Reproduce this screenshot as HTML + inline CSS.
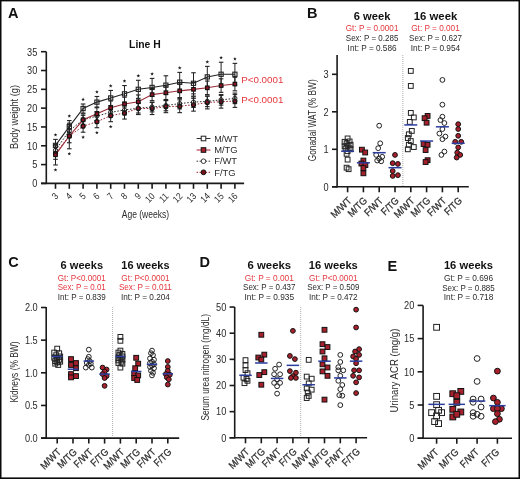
<!DOCTYPE html><html><head><meta charset="utf-8"><style>html,body{margin:0;padding:0;background:#fff;width:520px;height:479px;overflow:hidden}#w{will-change:transform;width:520px;height:479px}</style></head><body><div id="w"><svg width="520" height="479" viewBox="0 0 520 479" style="display:block;font-family:'Liberation Sans', sans-serif">
<rect x="0" y="0" width="520" height="479" fill="#fff"/>
<rect x="0" y="0" width="520" height="1.4" fill="#0a0a0a"/>
<rect x="0" y="0" width="1.5" height="479" fill="#0a0a0a"/>
<rect x="518.5" y="0" width="1.5" height="479" fill="#0a0a0a"/>
<rect x="0" y="477.4" width="520" height="1.6" fill="#0a0a0a"/>
<text x="8.10" y="17.90" font-size="14.5" text-anchor="start" fill="#111" font-weight="bold" >A</text>
<text x="306.90" y="17.70" font-size="14.5" text-anchor="start" fill="#111" font-weight="bold" >B</text>
<text x="8.20" y="267.40" font-size="14.5" text-anchor="start" fill="#111" font-weight="bold" >C</text>
<text x="199.50" y="267.10" font-size="14.5" text-anchor="start" fill="#111" font-weight="bold" >D</text>
<text x="387.60" y="270.90" font-size="14.5" text-anchor="start" fill="#111" font-weight="bold" >E</text>
<line x1="46.30" y1="51.70" x2="46.30" y2="184.05" stroke="#1a1a1a" stroke-width="1.6" />
<line x1="41.00" y1="183.40" x2="244.10" y2="183.40" stroke="#1a1a1a" stroke-width="1.6" />
<line x1="41.00" y1="183.40" x2="46.30" y2="183.40" stroke="#1a1a1a" stroke-width="1.6" />
<text x="37.30" y="187.20" font-size="10.6" text-anchor="end" fill="#2b2b2b" textLength="5.13" lengthAdjust="spacingAndGlyphs" >0</text>
<line x1="41.00" y1="164.59" x2="46.30" y2="164.59" stroke="#1a1a1a" stroke-width="1.6" />
<text x="37.30" y="168.39" font-size="10.6" text-anchor="end" fill="#2b2b2b" textLength="5.13" lengthAdjust="spacingAndGlyphs" >5</text>
<line x1="41.00" y1="145.77" x2="46.30" y2="145.77" stroke="#1a1a1a" stroke-width="1.6" />
<text x="37.30" y="149.57" font-size="10.6" text-anchor="end" fill="#2b2b2b" textLength="10.25" lengthAdjust="spacingAndGlyphs" >10</text>
<line x1="41.00" y1="126.96" x2="46.30" y2="126.96" stroke="#1a1a1a" stroke-width="1.6" />
<text x="37.30" y="130.76" font-size="10.6" text-anchor="end" fill="#2b2b2b" textLength="10.25" lengthAdjust="spacingAndGlyphs" >15</text>
<line x1="41.00" y1="108.14" x2="46.30" y2="108.14" stroke="#1a1a1a" stroke-width="1.6" />
<text x="37.30" y="111.94" font-size="10.6" text-anchor="end" fill="#2b2b2b" textLength="10.25" lengthAdjust="spacingAndGlyphs" >20</text>
<line x1="41.00" y1="89.33" x2="46.30" y2="89.33" stroke="#1a1a1a" stroke-width="1.6" />
<text x="37.30" y="93.12" font-size="10.6" text-anchor="end" fill="#2b2b2b" textLength="10.25" lengthAdjust="spacingAndGlyphs" >25</text>
<line x1="41.00" y1="70.51" x2="46.30" y2="70.51" stroke="#1a1a1a" stroke-width="1.6" />
<text x="37.30" y="74.31" font-size="10.6" text-anchor="end" fill="#2b2b2b" textLength="10.25" lengthAdjust="spacingAndGlyphs" >30</text>
<line x1="41.00" y1="51.70" x2="46.30" y2="51.70" stroke="#1a1a1a" stroke-width="1.6" />
<text x="37.30" y="55.50" font-size="10.6" text-anchor="end" fill="#2b2b2b" textLength="10.25" lengthAdjust="spacingAndGlyphs" >35</text>
<line x1="55.50" y1="183.40" x2="55.50" y2="188.80" stroke="#1a1a1a" stroke-width="1.6" />
<text transform="translate(58.90,196.80) rotate(-45)" font-size="9.6" text-anchor="end" fill="#2b2b2b" textLength="4.54" lengthAdjust="spacingAndGlyphs">3</text>
<line x1="69.30" y1="183.40" x2="69.30" y2="188.80" stroke="#1a1a1a" stroke-width="1.6" />
<text transform="translate(72.70,196.80) rotate(-45)" font-size="9.6" text-anchor="end" fill="#2b2b2b" textLength="4.54" lengthAdjust="spacingAndGlyphs">4</text>
<line x1="83.10" y1="183.40" x2="83.10" y2="188.80" stroke="#1a1a1a" stroke-width="1.6" />
<text transform="translate(86.50,196.80) rotate(-45)" font-size="9.6" text-anchor="end" fill="#2b2b2b" textLength="4.54" lengthAdjust="spacingAndGlyphs">5</text>
<line x1="96.90" y1="183.40" x2="96.90" y2="188.80" stroke="#1a1a1a" stroke-width="1.6" />
<text transform="translate(100.30,196.80) rotate(-45)" font-size="9.6" text-anchor="end" fill="#2b2b2b" textLength="4.54" lengthAdjust="spacingAndGlyphs">6</text>
<line x1="110.70" y1="183.40" x2="110.70" y2="188.80" stroke="#1a1a1a" stroke-width="1.6" />
<text transform="translate(114.10,196.80) rotate(-45)" font-size="9.6" text-anchor="end" fill="#2b2b2b" textLength="4.54" lengthAdjust="spacingAndGlyphs">7</text>
<line x1="124.50" y1="183.40" x2="124.50" y2="188.80" stroke="#1a1a1a" stroke-width="1.6" />
<text transform="translate(127.90,196.80) rotate(-45)" font-size="9.6" text-anchor="end" fill="#2b2b2b" textLength="4.54" lengthAdjust="spacingAndGlyphs">8</text>
<line x1="138.30" y1="183.40" x2="138.30" y2="188.80" stroke="#1a1a1a" stroke-width="1.6" />
<text transform="translate(141.70,196.80) rotate(-45)" font-size="9.6" text-anchor="end" fill="#2b2b2b" textLength="4.54" lengthAdjust="spacingAndGlyphs">9</text>
<line x1="152.10" y1="183.40" x2="152.10" y2="188.80" stroke="#1a1a1a" stroke-width="1.6" />
<text transform="translate(155.50,196.80) rotate(-45)" font-size="9.6" text-anchor="end" fill="#2b2b2b" textLength="9.07" lengthAdjust="spacingAndGlyphs">10</text>
<line x1="165.90" y1="183.40" x2="165.90" y2="188.80" stroke="#1a1a1a" stroke-width="1.6" />
<text transform="translate(169.30,196.80) rotate(-45)" font-size="9.6" text-anchor="end" fill="#2b2b2b" textLength="9.07" lengthAdjust="spacingAndGlyphs">11</text>
<line x1="179.70" y1="183.40" x2="179.70" y2="188.80" stroke="#1a1a1a" stroke-width="1.6" />
<text transform="translate(183.10,196.80) rotate(-45)" font-size="9.6" text-anchor="end" fill="#2b2b2b" textLength="9.07" lengthAdjust="spacingAndGlyphs">12</text>
<line x1="193.50" y1="183.40" x2="193.50" y2="188.80" stroke="#1a1a1a" stroke-width="1.6" />
<text transform="translate(196.90,196.80) rotate(-45)" font-size="9.6" text-anchor="end" fill="#2b2b2b" textLength="9.07" lengthAdjust="spacingAndGlyphs">13</text>
<line x1="207.30" y1="183.40" x2="207.30" y2="188.80" stroke="#1a1a1a" stroke-width="1.6" />
<text transform="translate(210.70,196.80) rotate(-45)" font-size="9.6" text-anchor="end" fill="#2b2b2b" textLength="9.07" lengthAdjust="spacingAndGlyphs">14</text>
<line x1="221.10" y1="183.40" x2="221.10" y2="188.80" stroke="#1a1a1a" stroke-width="1.6" />
<text transform="translate(224.50,196.80) rotate(-45)" font-size="9.6" text-anchor="end" fill="#2b2b2b" textLength="9.07" lengthAdjust="spacingAndGlyphs">15</text>
<line x1="234.90" y1="183.40" x2="234.90" y2="188.80" stroke="#1a1a1a" stroke-width="1.6" />
<text transform="translate(238.30,196.80) rotate(-45)" font-size="9.6" text-anchor="end" fill="#2b2b2b" textLength="9.07" lengthAdjust="spacingAndGlyphs">16</text>
<text x="145.40" y="218.10" font-size="10.5" text-anchor="middle" fill="#2b2b2b" textLength="47.3" lengthAdjust="spacingAndGlyphs" >Age (weeks)</text>
<text transform="translate(18.24,117.00) rotate(-90)" font-size="10.4" text-anchor="middle" fill="#2b2b2b" textLength="64" lengthAdjust="spacingAndGlyphs">Body weight (g)</text>
<text x="144.90" y="47.90" font-size="11" text-anchor="middle" fill="#111" font-weight="bold" textLength="31.7" lengthAdjust="spacingAndGlyphs" >Line H</text>
<line x1="55.50" y1="147.28" x2="55.50" y2="159.32" stroke="#222" stroke-width="1.0" />
<line x1="53.20" y1="147.28" x2="57.80" y2="147.28" stroke="#222" stroke-width="1.1" />
<line x1="53.20" y1="159.32" x2="57.80" y2="159.32" stroke="#222" stroke-width="1.1" />
<line x1="69.30" y1="129.21" x2="69.30" y2="142.76" stroke="#222" stroke-width="1.0" />
<line x1="67.00" y1="129.21" x2="71.60" y2="129.21" stroke="#222" stroke-width="1.1" />
<line x1="67.00" y1="142.76" x2="71.60" y2="142.76" stroke="#222" stroke-width="1.1" />
<line x1="83.10" y1="120.18" x2="83.10" y2="132.22" stroke="#222" stroke-width="1.0" />
<line x1="80.80" y1="120.18" x2="85.40" y2="120.18" stroke="#222" stroke-width="1.1" />
<line x1="80.80" y1="132.22" x2="85.40" y2="132.22" stroke="#222" stroke-width="1.1" />
<line x1="96.90" y1="115.67" x2="96.90" y2="127.71" stroke="#222" stroke-width="1.0" />
<line x1="94.60" y1="115.67" x2="99.20" y2="115.67" stroke="#222" stroke-width="1.1" />
<line x1="94.60" y1="127.71" x2="99.20" y2="127.71" stroke="#222" stroke-width="1.1" />
<line x1="110.70" y1="109.65" x2="110.70" y2="121.69" stroke="#222" stroke-width="1.0" />
<line x1="108.40" y1="109.65" x2="113.00" y2="109.65" stroke="#222" stroke-width="1.1" />
<line x1="108.40" y1="121.69" x2="113.00" y2="121.69" stroke="#222" stroke-width="1.1" />
<line x1="124.50" y1="107.01" x2="124.50" y2="119.05" stroke="#222" stroke-width="1.0" />
<line x1="122.20" y1="107.01" x2="126.80" y2="107.01" stroke="#222" stroke-width="1.1" />
<line x1="122.20" y1="119.05" x2="126.80" y2="119.05" stroke="#222" stroke-width="1.1" />
<line x1="138.30" y1="102.50" x2="138.30" y2="114.54" stroke="#222" stroke-width="1.0" />
<line x1="136.00" y1="102.50" x2="140.60" y2="102.50" stroke="#222" stroke-width="1.1" />
<line x1="136.00" y1="114.54" x2="140.60" y2="114.54" stroke="#222" stroke-width="1.1" />
<line x1="152.10" y1="102.50" x2="152.10" y2="114.54" stroke="#222" stroke-width="1.0" />
<line x1="149.80" y1="102.50" x2="154.40" y2="102.50" stroke="#222" stroke-width="1.1" />
<line x1="149.80" y1="114.54" x2="154.40" y2="114.54" stroke="#222" stroke-width="1.1" />
<line x1="165.90" y1="100.61" x2="165.90" y2="112.66" stroke="#222" stroke-width="1.0" />
<line x1="163.60" y1="100.61" x2="168.20" y2="100.61" stroke="#222" stroke-width="1.1" />
<line x1="163.60" y1="112.66" x2="168.20" y2="112.66" stroke="#222" stroke-width="1.1" />
<line x1="179.70" y1="99.86" x2="179.70" y2="112.66" stroke="#222" stroke-width="1.0" />
<line x1="177.40" y1="99.86" x2="182.00" y2="99.86" stroke="#222" stroke-width="1.1" />
<line x1="177.40" y1="112.66" x2="182.00" y2="112.66" stroke="#222" stroke-width="1.1" />
<line x1="193.50" y1="98.36" x2="193.50" y2="111.15" stroke="#222" stroke-width="1.0" />
<line x1="191.20" y1="98.36" x2="195.80" y2="98.36" stroke="#222" stroke-width="1.1" />
<line x1="191.20" y1="111.15" x2="195.80" y2="111.15" stroke="#222" stroke-width="1.1" />
<line x1="207.30" y1="96.10" x2="207.30" y2="108.89" stroke="#222" stroke-width="1.0" />
<line x1="205.00" y1="96.10" x2="209.60" y2="96.10" stroke="#222" stroke-width="1.1" />
<line x1="205.00" y1="108.89" x2="209.60" y2="108.89" stroke="#222" stroke-width="1.1" />
<line x1="221.10" y1="95.35" x2="221.10" y2="108.14" stroke="#222" stroke-width="1.0" />
<line x1="218.80" y1="95.35" x2="223.40" y2="95.35" stroke="#222" stroke-width="1.1" />
<line x1="218.80" y1="108.14" x2="223.40" y2="108.14" stroke="#222" stroke-width="1.1" />
<line x1="234.90" y1="94.59" x2="234.90" y2="107.39" stroke="#222" stroke-width="1.0" />
<line x1="232.60" y1="94.59" x2="237.20" y2="94.59" stroke="#222" stroke-width="1.1" />
<line x1="232.60" y1="107.39" x2="237.20" y2="107.39" stroke="#222" stroke-width="1.1" />
<line x1="55.50" y1="145.77" x2="55.50" y2="154.80" stroke="#222" stroke-width="1.0" />
<line x1="53.20" y1="145.77" x2="57.80" y2="145.77" stroke="#222" stroke-width="1.1" />
<line x1="53.20" y1="154.80" x2="57.80" y2="154.80" stroke="#222" stroke-width="1.1" />
<line x1="69.30" y1="126.20" x2="69.30" y2="135.23" stroke="#222" stroke-width="1.0" />
<line x1="67.00" y1="126.20" x2="71.60" y2="126.20" stroke="#222" stroke-width="1.1" />
<line x1="67.00" y1="135.23" x2="71.60" y2="135.23" stroke="#222" stroke-width="1.1" />
<line x1="83.10" y1="115.29" x2="83.10" y2="124.32" stroke="#222" stroke-width="1.0" />
<line x1="80.80" y1="115.29" x2="85.40" y2="115.29" stroke="#222" stroke-width="1.1" />
<line x1="80.80" y1="124.32" x2="85.40" y2="124.32" stroke="#222" stroke-width="1.1" />
<line x1="96.90" y1="111.53" x2="96.90" y2="120.56" stroke="#222" stroke-width="1.0" />
<line x1="94.60" y1="111.53" x2="99.20" y2="111.53" stroke="#222" stroke-width="1.1" />
<line x1="94.60" y1="120.56" x2="99.20" y2="120.56" stroke="#222" stroke-width="1.1" />
<line x1="110.70" y1="107.76" x2="110.70" y2="116.79" stroke="#222" stroke-width="1.0" />
<line x1="108.40" y1="107.76" x2="113.00" y2="107.76" stroke="#222" stroke-width="1.1" />
<line x1="108.40" y1="116.79" x2="113.00" y2="116.79" stroke="#222" stroke-width="1.1" />
<line x1="124.50" y1="105.13" x2="124.50" y2="114.91" stroke="#222" stroke-width="1.0" />
<line x1="122.20" y1="105.13" x2="126.80" y2="105.13" stroke="#222" stroke-width="1.1" />
<line x1="122.20" y1="114.91" x2="126.80" y2="114.91" stroke="#222" stroke-width="1.1" />
<line x1="138.30" y1="103.25" x2="138.30" y2="113.03" stroke="#222" stroke-width="1.0" />
<line x1="136.00" y1="103.25" x2="140.60" y2="103.25" stroke="#222" stroke-width="1.1" />
<line x1="136.00" y1="113.03" x2="140.60" y2="113.03" stroke="#222" stroke-width="1.1" />
<line x1="152.10" y1="102.12" x2="152.10" y2="111.90" stroke="#222" stroke-width="1.0" />
<line x1="149.80" y1="102.12" x2="154.40" y2="102.12" stroke="#222" stroke-width="1.1" />
<line x1="149.80" y1="111.90" x2="154.40" y2="111.90" stroke="#222" stroke-width="1.1" />
<line x1="165.90" y1="100.24" x2="165.90" y2="110.77" stroke="#222" stroke-width="1.0" />
<line x1="163.60" y1="100.24" x2="168.20" y2="100.24" stroke="#222" stroke-width="1.1" />
<line x1="163.60" y1="110.77" x2="168.20" y2="110.77" stroke="#222" stroke-width="1.1" />
<line x1="179.70" y1="98.36" x2="179.70" y2="108.89" stroke="#222" stroke-width="1.0" />
<line x1="177.40" y1="98.36" x2="182.00" y2="98.36" stroke="#222" stroke-width="1.1" />
<line x1="177.40" y1="108.89" x2="182.00" y2="108.89" stroke="#222" stroke-width="1.1" />
<line x1="193.50" y1="96.85" x2="193.50" y2="107.39" stroke="#222" stroke-width="1.0" />
<line x1="191.20" y1="96.85" x2="195.80" y2="96.85" stroke="#222" stroke-width="1.1" />
<line x1="191.20" y1="107.39" x2="195.80" y2="107.39" stroke="#222" stroke-width="1.1" />
<line x1="207.30" y1="96.10" x2="207.30" y2="106.63" stroke="#222" stroke-width="1.0" />
<line x1="205.00" y1="96.10" x2="209.60" y2="96.10" stroke="#222" stroke-width="1.1" />
<line x1="205.00" y1="106.63" x2="209.60" y2="106.63" stroke="#222" stroke-width="1.1" />
<line x1="221.10" y1="94.59" x2="221.10" y2="105.13" stroke="#222" stroke-width="1.0" />
<line x1="218.80" y1="94.59" x2="223.40" y2="94.59" stroke="#222" stroke-width="1.1" />
<line x1="218.80" y1="105.13" x2="223.40" y2="105.13" stroke="#222" stroke-width="1.1" />
<line x1="234.90" y1="93.09" x2="234.90" y2="103.62" stroke="#222" stroke-width="1.0" />
<line x1="232.60" y1="93.09" x2="237.20" y2="93.09" stroke="#222" stroke-width="1.1" />
<line x1="232.60" y1="103.62" x2="237.20" y2="103.62" stroke="#222" stroke-width="1.1" />
<line x1="55.50" y1="144.64" x2="55.50" y2="164.96" stroke="#222" stroke-width="1.0" />
<line x1="53.20" y1="144.64" x2="57.80" y2="144.64" stroke="#222" stroke-width="1.1" />
<line x1="53.20" y1="164.96" x2="57.80" y2="164.96" stroke="#222" stroke-width="1.1" />
<line x1="69.30" y1="123.19" x2="69.30" y2="148.78" stroke="#222" stroke-width="1.0" />
<line x1="67.00" y1="123.19" x2="71.60" y2="123.19" stroke="#222" stroke-width="1.1" />
<line x1="67.00" y1="148.78" x2="71.60" y2="148.78" stroke="#222" stroke-width="1.1" />
<line x1="83.10" y1="113.78" x2="83.10" y2="125.83" stroke="#222" stroke-width="1.0" />
<line x1="80.80" y1="113.78" x2="85.40" y2="113.78" stroke="#222" stroke-width="1.1" />
<line x1="80.80" y1="125.83" x2="85.40" y2="125.83" stroke="#222" stroke-width="1.1" />
<line x1="96.90" y1="107.01" x2="96.90" y2="120.56" stroke="#222" stroke-width="1.0" />
<line x1="94.60" y1="107.01" x2="99.20" y2="107.01" stroke="#222" stroke-width="1.1" />
<line x1="94.60" y1="120.56" x2="99.20" y2="120.56" stroke="#222" stroke-width="1.1" />
<line x1="110.70" y1="100.99" x2="110.70" y2="114.54" stroke="#222" stroke-width="1.0" />
<line x1="108.40" y1="100.99" x2="113.00" y2="100.99" stroke="#222" stroke-width="1.1" />
<line x1="108.40" y1="114.54" x2="113.00" y2="114.54" stroke="#222" stroke-width="1.1" />
<line x1="124.50" y1="97.23" x2="124.50" y2="110.77" stroke="#222" stroke-width="1.0" />
<line x1="122.20" y1="97.23" x2="126.80" y2="97.23" stroke="#222" stroke-width="1.1" />
<line x1="122.20" y1="110.77" x2="126.80" y2="110.77" stroke="#222" stroke-width="1.1" />
<line x1="138.30" y1="94.97" x2="138.30" y2="108.52" stroke="#222" stroke-width="1.0" />
<line x1="136.00" y1="94.97" x2="140.60" y2="94.97" stroke="#222" stroke-width="1.1" />
<line x1="136.00" y1="108.52" x2="140.60" y2="108.52" stroke="#222" stroke-width="1.1" />
<line x1="152.10" y1="88.57" x2="152.10" y2="100.61" stroke="#222" stroke-width="1.0" />
<line x1="149.80" y1="88.57" x2="154.40" y2="88.57" stroke="#222" stroke-width="1.1" />
<line x1="149.80" y1="100.61" x2="154.40" y2="100.61" stroke="#222" stroke-width="1.1" />
<line x1="165.90" y1="85.94" x2="165.90" y2="99.49" stroke="#222" stroke-width="1.0" />
<line x1="163.60" y1="85.94" x2="168.20" y2="85.94" stroke="#222" stroke-width="1.1" />
<line x1="163.60" y1="99.49" x2="168.20" y2="99.49" stroke="#222" stroke-width="1.1" />
<line x1="179.70" y1="84.06" x2="179.70" y2="97.60" stroke="#222" stroke-width="1.0" />
<line x1="177.40" y1="84.06" x2="182.00" y2="84.06" stroke="#222" stroke-width="1.1" />
<line x1="177.40" y1="97.60" x2="182.00" y2="97.60" stroke="#222" stroke-width="1.1" />
<line x1="193.50" y1="82.55" x2="193.50" y2="96.10" stroke="#222" stroke-width="1.0" />
<line x1="191.20" y1="82.55" x2="195.80" y2="82.55" stroke="#222" stroke-width="1.1" />
<line x1="191.20" y1="96.10" x2="195.80" y2="96.10" stroke="#222" stroke-width="1.1" />
<line x1="207.30" y1="81.05" x2="207.30" y2="94.59" stroke="#222" stroke-width="1.0" />
<line x1="205.00" y1="81.05" x2="209.60" y2="81.05" stroke="#222" stroke-width="1.1" />
<line x1="205.00" y1="94.59" x2="209.60" y2="94.59" stroke="#222" stroke-width="1.1" />
<line x1="221.10" y1="78.79" x2="221.10" y2="92.34" stroke="#222" stroke-width="1.0" />
<line x1="218.80" y1="78.79" x2="223.40" y2="78.79" stroke="#222" stroke-width="1.1" />
<line x1="218.80" y1="92.34" x2="223.40" y2="92.34" stroke="#222" stroke-width="1.1" />
<line x1="234.90" y1="77.28" x2="234.90" y2="90.83" stroke="#222" stroke-width="1.0" />
<line x1="232.60" y1="77.28" x2="237.20" y2="77.28" stroke="#222" stroke-width="1.1" />
<line x1="232.60" y1="90.83" x2="237.20" y2="90.83" stroke="#222" stroke-width="1.1" />
<line x1="55.50" y1="139.37" x2="55.50" y2="151.41" stroke="#222" stroke-width="1.0" />
<line x1="53.20" y1="139.37" x2="57.80" y2="139.37" stroke="#222" stroke-width="1.1" />
<line x1="53.20" y1="151.41" x2="57.80" y2="151.41" stroke="#222" stroke-width="1.1" />
<line x1="69.30" y1="120.56" x2="69.30" y2="132.60" stroke="#222" stroke-width="1.0" />
<line x1="67.00" y1="120.56" x2="71.60" y2="120.56" stroke="#222" stroke-width="1.1" />
<line x1="67.00" y1="132.60" x2="71.60" y2="132.60" stroke="#222" stroke-width="1.1" />
<line x1="83.10" y1="104.00" x2="83.10" y2="113.03" stroke="#222" stroke-width="1.0" />
<line x1="80.80" y1="104.00" x2="85.40" y2="104.00" stroke="#222" stroke-width="1.1" />
<line x1="80.80" y1="113.03" x2="85.40" y2="113.03" stroke="#222" stroke-width="1.1" />
<line x1="96.90" y1="96.47" x2="96.90" y2="107.76" stroke="#222" stroke-width="1.0" />
<line x1="94.60" y1="96.47" x2="99.20" y2="96.47" stroke="#222" stroke-width="1.1" />
<line x1="94.60" y1="107.76" x2="99.20" y2="107.76" stroke="#222" stroke-width="1.1" />
<line x1="110.70" y1="90.45" x2="110.70" y2="105.51" stroke="#222" stroke-width="1.0" />
<line x1="108.40" y1="90.45" x2="113.00" y2="90.45" stroke="#222" stroke-width="1.1" />
<line x1="108.40" y1="105.51" x2="113.00" y2="105.51" stroke="#222" stroke-width="1.1" />
<line x1="124.50" y1="85.56" x2="124.50" y2="102.12" stroke="#222" stroke-width="1.0" />
<line x1="122.20" y1="85.56" x2="126.80" y2="85.56" stroke="#222" stroke-width="1.1" />
<line x1="122.20" y1="102.12" x2="126.80" y2="102.12" stroke="#222" stroke-width="1.1" />
<line x1="138.30" y1="80.29" x2="138.30" y2="98.36" stroke="#222" stroke-width="1.0" />
<line x1="136.00" y1="80.29" x2="140.60" y2="80.29" stroke="#222" stroke-width="1.1" />
<line x1="136.00" y1="98.36" x2="140.60" y2="98.36" stroke="#222" stroke-width="1.1" />
<line x1="152.10" y1="78.41" x2="152.10" y2="96.47" stroke="#222" stroke-width="1.0" />
<line x1="149.80" y1="78.41" x2="154.40" y2="78.41" stroke="#222" stroke-width="1.1" />
<line x1="149.80" y1="96.47" x2="154.40" y2="96.47" stroke="#222" stroke-width="1.1" />
<line x1="165.90" y1="75.78" x2="165.90" y2="94.59" stroke="#222" stroke-width="1.0" />
<line x1="163.60" y1="75.78" x2="168.20" y2="75.78" stroke="#222" stroke-width="1.1" />
<line x1="163.60" y1="94.59" x2="168.20" y2="94.59" stroke="#222" stroke-width="1.1" />
<line x1="179.70" y1="72.39" x2="179.70" y2="91.96" stroke="#222" stroke-width="1.0" />
<line x1="177.40" y1="72.39" x2="182.00" y2="72.39" stroke="#222" stroke-width="1.1" />
<line x1="177.40" y1="91.96" x2="182.00" y2="91.96" stroke="#222" stroke-width="1.1" />
<line x1="193.50" y1="72.77" x2="193.50" y2="93.84" stroke="#222" stroke-width="1.0" />
<line x1="191.20" y1="72.77" x2="195.80" y2="72.77" stroke="#222" stroke-width="1.1" />
<line x1="191.20" y1="93.84" x2="195.80" y2="93.84" stroke="#222" stroke-width="1.1" />
<line x1="207.30" y1="66.37" x2="207.30" y2="87.44" stroke="#222" stroke-width="1.0" />
<line x1="205.00" y1="66.37" x2="209.60" y2="66.37" stroke="#222" stroke-width="1.1" />
<line x1="205.00" y1="87.44" x2="209.60" y2="87.44" stroke="#222" stroke-width="1.1" />
<line x1="221.10" y1="62.23" x2="221.10" y2="86.31" stroke="#222" stroke-width="1.0" />
<line x1="218.80" y1="62.23" x2="223.40" y2="62.23" stroke="#222" stroke-width="1.1" />
<line x1="218.80" y1="86.31" x2="223.40" y2="86.31" stroke="#222" stroke-width="1.1" />
<line x1="234.90" y1="63.36" x2="234.90" y2="85.19" stroke="#222" stroke-width="1.0" />
<line x1="232.60" y1="63.36" x2="237.20" y2="63.36" stroke="#222" stroke-width="1.1" />
<line x1="232.60" y1="85.19" x2="237.20" y2="85.19" stroke="#222" stroke-width="1.1" />
<polyline points="55.50,153.30 69.30,135.99 83.10,126.20 96.90,121.69 110.70,115.67 124.50,113.03 138.30,108.52 152.10,108.52 165.90,106.63 179.70,106.26 193.50,104.75 207.30,102.50 221.10,101.74 234.90,100.99" fill="none" stroke="#9a2a36" stroke-width="1.0" stroke-dasharray="1.6,1.6"/>
<polyline points="55.50,150.29 69.30,130.72 83.10,119.81 96.90,116.04 110.70,112.28 124.50,110.02 138.30,108.14 152.10,107.01 165.90,105.51 179.70,103.62 193.50,102.12 207.30,101.37 221.10,99.86 234.90,98.36" fill="none" stroke="#333" stroke-width="1.0" stroke-dasharray="1.6,1.6"/>
<polyline points="55.50,154.80 69.30,135.99 83.10,119.81 96.90,113.78 110.70,107.76 124.50,104.00 138.30,101.74 152.10,94.59 165.90,92.71 179.70,90.83 193.50,89.33 207.30,87.82 221.10,85.56 234.90,84.06" fill="none" stroke="#9a2a36" stroke-width="1.1"/>
<polyline points="55.50,145.39 69.30,126.58 83.10,108.52 96.90,102.12 110.70,97.98 124.50,93.84 138.30,89.33 152.10,87.44 165.90,85.19 179.70,82.18 193.50,83.30 207.30,76.91 221.10,74.27 234.90,74.27" fill="none" stroke="#222" stroke-width="1.1"/>
<circle cx="55.50" cy="153.30" r="2.0" fill="#8c1222" stroke="#111" stroke-width="1.2"/>
<circle cx="69.30" cy="135.99" r="2.0" fill="#8c1222" stroke="#111" stroke-width="1.2"/>
<circle cx="83.10" cy="126.20" r="2.0" fill="#8c1222" stroke="#111" stroke-width="1.2"/>
<circle cx="96.90" cy="121.69" r="2.0" fill="#8c1222" stroke="#111" stroke-width="1.2"/>
<circle cx="110.70" cy="115.67" r="2.0" fill="#8c1222" stroke="#111" stroke-width="1.2"/>
<circle cx="124.50" cy="113.03" r="2.0" fill="#8c1222" stroke="#111" stroke-width="1.2"/>
<circle cx="138.30" cy="108.52" r="2.0" fill="#8c1222" stroke="#111" stroke-width="1.2"/>
<circle cx="152.10" cy="108.52" r="2.0" fill="#8c1222" stroke="#111" stroke-width="1.2"/>
<circle cx="165.90" cy="106.63" r="2.0" fill="#8c1222" stroke="#111" stroke-width="1.2"/>
<circle cx="179.70" cy="106.26" r="2.0" fill="#8c1222" stroke="#111" stroke-width="1.2"/>
<circle cx="193.50" cy="104.75" r="2.0" fill="#8c1222" stroke="#111" stroke-width="1.2"/>
<circle cx="207.30" cy="102.50" r="2.0" fill="#8c1222" stroke="#111" stroke-width="1.2"/>
<circle cx="221.10" cy="101.74" r="2.0" fill="#8c1222" stroke="#111" stroke-width="1.2"/>
<circle cx="234.90" cy="100.99" r="2.0" fill="#8c1222" stroke="#111" stroke-width="1.2"/>
<circle cx="55.50" cy="150.29" r="2.1" fill="none" stroke="#222" stroke-width="1.0"/>
<circle cx="69.30" cy="130.72" r="2.1" fill="none" stroke="#222" stroke-width="1.0"/>
<circle cx="83.10" cy="119.81" r="2.1" fill="none" stroke="#222" stroke-width="1.0"/>
<circle cx="96.90" cy="116.04" r="2.1" fill="none" stroke="#222" stroke-width="1.0"/>
<circle cx="110.70" cy="112.28" r="2.1" fill="none" stroke="#222" stroke-width="1.0"/>
<circle cx="124.50" cy="110.02" r="2.1" fill="none" stroke="#222" stroke-width="1.0"/>
<circle cx="138.30" cy="108.14" r="2.1" fill="none" stroke="#222" stroke-width="1.0"/>
<circle cx="152.10" cy="107.01" r="2.1" fill="none" stroke="#222" stroke-width="1.0"/>
<circle cx="165.90" cy="105.51" r="2.1" fill="none" stroke="#222" stroke-width="1.0"/>
<circle cx="179.70" cy="103.62" r="2.1" fill="none" stroke="#222" stroke-width="1.0"/>
<circle cx="193.50" cy="102.12" r="2.1" fill="none" stroke="#222" stroke-width="1.0"/>
<circle cx="207.30" cy="101.37" r="2.1" fill="none" stroke="#222" stroke-width="1.0"/>
<circle cx="221.10" cy="99.86" r="2.1" fill="none" stroke="#222" stroke-width="1.0"/>
<circle cx="234.90" cy="98.36" r="2.1" fill="none" stroke="#222" stroke-width="1.0"/>
<rect x="53.70" y="153.00" width="3.6" height="3.6" fill="#8c1222" stroke="#111" stroke-width="1.1"/>
<rect x="67.50" y="134.19" width="3.6" height="3.6" fill="#8c1222" stroke="#111" stroke-width="1.1"/>
<rect x="81.30" y="118.01" width="3.6" height="3.6" fill="#8c1222" stroke="#111" stroke-width="1.1"/>
<rect x="95.10" y="111.98" width="3.6" height="3.6" fill="#8c1222" stroke="#111" stroke-width="1.1"/>
<rect x="108.90" y="105.96" width="3.6" height="3.6" fill="#8c1222" stroke="#111" stroke-width="1.1"/>
<rect x="122.70" y="102.20" width="3.6" height="3.6" fill="#8c1222" stroke="#111" stroke-width="1.1"/>
<rect x="136.50" y="99.94" width="3.6" height="3.6" fill="#8c1222" stroke="#111" stroke-width="1.1"/>
<rect x="150.30" y="92.79" width="3.6" height="3.6" fill="#8c1222" stroke="#111" stroke-width="1.1"/>
<rect x="164.10" y="90.91" width="3.6" height="3.6" fill="#8c1222" stroke="#111" stroke-width="1.1"/>
<rect x="177.90" y="89.03" width="3.6" height="3.6" fill="#8c1222" stroke="#111" stroke-width="1.1"/>
<rect x="191.70" y="87.53" width="3.6" height="3.6" fill="#8c1222" stroke="#111" stroke-width="1.1"/>
<rect x="205.50" y="86.02" width="3.6" height="3.6" fill="#8c1222" stroke="#111" stroke-width="1.1"/>
<rect x="219.30" y="83.76" width="3.6" height="3.6" fill="#8c1222" stroke="#111" stroke-width="1.1"/>
<rect x="233.10" y="82.26" width="3.6" height="3.6" fill="#8c1222" stroke="#111" stroke-width="1.1"/>
<rect x="53.40" y="143.29" width="4.2" height="4.2" fill="none" stroke="#222" stroke-width="1.1"/>
<rect x="67.20" y="124.48" width="4.2" height="4.2" fill="none" stroke="#222" stroke-width="1.1"/>
<rect x="81.00" y="106.42" width="4.2" height="4.2" fill="none" stroke="#222" stroke-width="1.1"/>
<rect x="94.80" y="100.02" width="4.2" height="4.2" fill="none" stroke="#222" stroke-width="1.1"/>
<rect x="108.60" y="95.88" width="4.2" height="4.2" fill="none" stroke="#222" stroke-width="1.1"/>
<rect x="122.40" y="91.74" width="4.2" height="4.2" fill="none" stroke="#222" stroke-width="1.1"/>
<rect x="136.20" y="87.23" width="4.2" height="4.2" fill="none" stroke="#222" stroke-width="1.1"/>
<rect x="150.00" y="85.34" width="4.2" height="4.2" fill="none" stroke="#222" stroke-width="1.1"/>
<rect x="163.80" y="83.09" width="4.2" height="4.2" fill="none" stroke="#222" stroke-width="1.1"/>
<rect x="177.60" y="80.08" width="4.2" height="4.2" fill="none" stroke="#222" stroke-width="1.1"/>
<rect x="191.40" y="81.20" width="4.2" height="4.2" fill="none" stroke="#222" stroke-width="1.1"/>
<rect x="205.20" y="74.81" width="4.2" height="4.2" fill="none" stroke="#222" stroke-width="1.1"/>
<rect x="219.00" y="72.17" width="4.2" height="4.2" fill="none" stroke="#222" stroke-width="1.1"/>
<rect x="232.80" y="72.17" width="4.2" height="4.2" fill="none" stroke="#222" stroke-width="1.1"/>
<polygon points="55.50,132.97 56.00,134.18 57.31,134.29 56.31,135.14 56.62,136.41 55.50,135.73 54.38,136.41 54.69,135.14 53.69,134.29 55.00,134.18" fill="#222"/>
<polygon points="69.30,114.16 69.80,115.37 71.11,115.47 70.11,116.32 70.42,117.60 69.30,116.91 68.18,117.60 68.49,116.32 67.49,115.47 68.80,115.37" fill="#222"/>
<polygon points="83.10,97.60 83.60,98.81 84.91,98.91 83.91,99.76 84.22,101.04 83.10,100.36 81.98,101.04 82.29,99.76 81.29,98.91 82.60,98.81" fill="#222"/>
<polygon points="96.90,90.07 97.40,91.28 98.71,91.39 97.71,92.24 98.02,93.51 96.90,92.83 95.78,93.51 96.09,92.24 95.09,91.39 96.40,91.28" fill="#222"/>
<polygon points="110.70,84.05 111.20,85.26 112.51,85.37 111.51,86.22 111.82,87.49 110.70,86.81 109.58,87.49 109.89,86.22 108.89,85.37 110.20,85.26" fill="#222"/>
<polygon points="124.50,79.16 125.00,80.37 126.31,80.47 125.31,81.33 125.62,82.60 124.50,81.92 123.38,82.60 123.69,81.33 122.69,80.47 124.00,80.37" fill="#222"/>
<polygon points="138.30,73.89 138.80,75.10 140.11,75.21 139.11,76.06 139.42,77.33 138.30,76.65 137.18,77.33 137.49,76.06 136.49,75.21 137.80,75.10" fill="#222"/>
<polygon points="152.10,72.01 152.60,73.22 153.91,73.33 152.91,74.18 153.22,75.45 152.10,74.77 150.98,75.45 151.29,74.18 150.29,73.33 151.60,73.22" fill="#222"/>
<polygon points="179.70,65.99 180.20,67.20 181.51,67.30 180.51,68.16 180.82,69.43 179.70,68.75 178.58,69.43 178.89,68.16 177.89,67.30 179.20,67.20" fill="#222"/>
<polygon points="207.30,59.97 207.80,61.18 209.11,61.28 208.11,62.13 208.42,63.41 207.30,62.73 206.18,63.41 206.49,62.13 205.49,61.28 206.80,61.18" fill="#222"/>
<polygon points="221.10,55.83 221.60,57.04 222.91,57.14 221.91,58.00 222.22,59.27 221.10,58.59 219.98,59.27 220.29,58.00 219.29,57.14 220.60,57.04" fill="#222"/>
<polygon points="234.90,56.96 235.40,58.17 236.71,58.27 235.71,59.12 236.02,60.40 234.90,59.72 233.78,60.40 234.09,59.12 233.09,58.27 234.40,58.17" fill="#222"/>
<polygon points="55.50,168.06 56.00,169.27 57.31,169.37 56.31,170.23 56.62,171.50 55.50,170.82 54.38,171.50 54.69,170.23 53.69,169.37 55.00,169.27" fill="#222"/>
<polygon points="69.30,151.88 69.80,153.09 71.11,153.19 70.11,154.04 70.42,155.32 69.30,154.64 68.18,155.32 68.49,154.04 67.49,153.19 68.80,153.09" fill="#222"/>
<polygon points="83.10,135.32 83.60,136.53 84.91,136.64 83.91,137.49 84.22,138.76 83.10,138.08 81.98,138.76 82.29,137.49 81.29,136.64 82.60,136.53" fill="#222"/>
<polygon points="96.90,130.81 97.40,132.02 98.71,132.12 97.71,132.97 98.02,134.24 96.90,133.56 95.78,134.24 96.09,132.97 95.09,132.12 96.40,132.02" fill="#222"/>
<polygon points="110.70,124.79 111.20,126.00 112.51,126.10 111.51,126.95 111.82,128.22 110.70,127.54 109.58,128.22 109.89,126.95 108.89,126.10 110.20,126.00" fill="#222"/>
<text x="241.20" y="82.70" font-size="9.8" text-anchor="start" fill="#e5383f" >P&lt;0.0001</text>
<text x="241.20" y="103.40" font-size="9.8" text-anchor="start" fill="#e5383f" >P&lt;0.0001</text>
<line x1="196.60" y1="138.50" x2="210.50" y2="138.50" stroke="#333" stroke-width="1.0" />
<rect x="201.20" y="136.20" width="4.6" height="4.6" fill="#fff" stroke="#222" stroke-width="1.0"/>
<text x="214.20" y="141.70" font-size="9.4" text-anchor="start" fill="#2b2b2b" textLength="23.8" lengthAdjust="spacingAndGlyphs" >M/WT</text>
<line x1="196.60" y1="150.00" x2="210.50" y2="150.00" stroke="#a8202c" stroke-width="1.0" />
<rect x="201.20" y="147.70" width="4.6" height="4.6" fill="#a8202c" stroke="#111" stroke-width="1.0"/>
<text x="214.20" y="153.20" font-size="9.4" text-anchor="start" fill="#2b2b2b" >M/TG</text>
<line x1="196.60" y1="161.20" x2="210.50" y2="161.20" stroke="#333" stroke-width="1.0" stroke-dasharray="1.5,1.5"/>
<circle cx="203.50" cy="161.20" r="2.3" fill="#fff" stroke="#333" stroke-width="1.0"/>
<text x="214.20" y="164.40" font-size="9.4" text-anchor="start" fill="#2b2b2b" >F/WT</text>
<line x1="196.60" y1="172.30" x2="210.50" y2="172.30" stroke="#a8202c" stroke-width="1.0" stroke-dasharray="1.5,1.5"/>
<circle cx="203.50" cy="172.30" r="2.4" fill="#7a1018" stroke="#111" stroke-width="1.0"/>
<text x="214.20" y="175.50" font-size="9.4" text-anchor="start" fill="#2b2b2b" >F/TG</text>
<line x1="337.10" y1="55.00" x2="337.10" y2="187.45" stroke="#1a1a1a" stroke-width="1.6" />
<line x1="332.00" y1="186.80" x2="468.80" y2="186.80" stroke="#1a1a1a" stroke-width="1.6" />
<line x1="332.00" y1="186.80" x2="337.10" y2="186.80" stroke="#1a1a1a" stroke-width="1.6" />
<text x="328.70" y="190.60" font-size="10.6" text-anchor="end" fill="#2b2b2b" textLength="5.13" lengthAdjust="spacingAndGlyphs" >0</text>
<line x1="332.00" y1="149.30" x2="337.10" y2="149.30" stroke="#1a1a1a" stroke-width="1.6" />
<text x="328.70" y="153.10" font-size="10.6" text-anchor="end" fill="#2b2b2b" textLength="5.13" lengthAdjust="spacingAndGlyphs" >1</text>
<line x1="332.00" y1="111.80" x2="337.10" y2="111.80" stroke="#1a1a1a" stroke-width="1.6" />
<text x="328.70" y="115.60" font-size="10.6" text-anchor="end" fill="#2b2b2b" textLength="5.13" lengthAdjust="spacingAndGlyphs" >2</text>
<line x1="332.00" y1="74.30" x2="337.10" y2="74.30" stroke="#1a1a1a" stroke-width="1.6" />
<text x="328.70" y="78.10" font-size="10.6" text-anchor="end" fill="#2b2b2b" textLength="5.13" lengthAdjust="spacingAndGlyphs" >3</text>
<line x1="347.60" y1="186.80" x2="347.60" y2="192.30" stroke="#1a1a1a" stroke-width="1.6" />
<text transform="translate(352.10,201.30) rotate(-45)" font-size="10.0" text-anchor="end" fill="#2b2b2b" stroke="#2b2b2b" stroke-width="0.25" textLength="24.5" lengthAdjust="spacingAndGlyphs">M/WT</text>
<line x1="363.40" y1="186.80" x2="363.40" y2="192.30" stroke="#1a1a1a" stroke-width="1.6" />
<text transform="translate(367.90,201.30) rotate(-45)" font-size="10.0" text-anchor="end" fill="#2b2b2b" stroke="#2b2b2b" stroke-width="0.25" textLength="23" lengthAdjust="spacingAndGlyphs">M/TG</text>
<line x1="379.20" y1="186.80" x2="379.20" y2="192.30" stroke="#1a1a1a" stroke-width="1.6" />
<text transform="translate(383.70,201.30) rotate(-45)" font-size="10.0" text-anchor="end" fill="#2b2b2b" stroke="#2b2b2b" stroke-width="0.25" textLength="22" lengthAdjust="spacingAndGlyphs">F/WT</text>
<line x1="395.00" y1="186.80" x2="395.00" y2="192.30" stroke="#1a1a1a" stroke-width="1.6" />
<text transform="translate(399.50,201.30) rotate(-45)" font-size="10.0" text-anchor="end" fill="#2b2b2b" stroke="#2b2b2b" stroke-width="0.25" textLength="20.5" lengthAdjust="spacingAndGlyphs">F/TG</text>
<line x1="410.80" y1="186.80" x2="410.80" y2="192.30" stroke="#1a1a1a" stroke-width="1.6" />
<text transform="translate(415.30,201.30) rotate(-45)" font-size="10.0" text-anchor="end" fill="#2b2b2b" stroke="#2b2b2b" stroke-width="0.25" textLength="24.5" lengthAdjust="spacingAndGlyphs">M/WT</text>
<line x1="426.60" y1="186.80" x2="426.60" y2="192.30" stroke="#1a1a1a" stroke-width="1.6" />
<text transform="translate(431.10,201.30) rotate(-45)" font-size="10.0" text-anchor="end" fill="#2b2b2b" stroke="#2b2b2b" stroke-width="0.25" textLength="23" lengthAdjust="spacingAndGlyphs">M/TG</text>
<line x1="442.40" y1="186.80" x2="442.40" y2="192.30" stroke="#1a1a1a" stroke-width="1.6" />
<text transform="translate(446.90,201.30) rotate(-45)" font-size="10.0" text-anchor="end" fill="#2b2b2b" stroke="#2b2b2b" stroke-width="0.25" textLength="22" lengthAdjust="spacingAndGlyphs">F/WT</text>
<line x1="458.20" y1="186.80" x2="458.20" y2="192.30" stroke="#1a1a1a" stroke-width="1.6" />
<text transform="translate(462.70,201.30) rotate(-45)" font-size="10.0" text-anchor="end" fill="#2b2b2b" stroke="#2b2b2b" stroke-width="0.25" textLength="20.5" lengthAdjust="spacingAndGlyphs">F/TG</text>
<line x1="402.80" y1="55.00" x2="402.80" y2="185.80" stroke="#9a9a9a" stroke-width="0.8" stroke-dasharray="1,1"/>
<text transform="translate(316.04,120.30) rotate(-90)" font-size="10.4" text-anchor="middle" fill="#2b2b2b" textLength="82" lengthAdjust="spacingAndGlyphs">Gonadal WAT (% BW)</text>
<rect x="345.20" y="136.03" width="4.8" height="4.8" fill="none" stroke="#222" stroke-width="1.0"/>
<rect x="342.20" y="139.40" width="4.8" height="4.8" fill="none" stroke="#222" stroke-width="1.0"/>
<rect x="347.20" y="139.03" width="4.8" height="4.8" fill="none" stroke="#222" stroke-width="1.0"/>
<rect x="344.20" y="140.90" width="4.8" height="4.8" fill="none" stroke="#222" stroke-width="1.0"/>
<rect x="348.20" y="142.40" width="4.8" height="4.8" fill="none" stroke="#222" stroke-width="1.0"/>
<rect x="342.20" y="143.90" width="4.8" height="4.8" fill="none" stroke="#222" stroke-width="1.0"/>
<rect x="345.20" y="143.15" width="4.8" height="4.8" fill="none" stroke="#222" stroke-width="1.0"/>
<rect x="347.20" y="145.78" width="4.8" height="4.8" fill="none" stroke="#222" stroke-width="1.0"/>
<rect x="343.20" y="146.15" width="4.8" height="4.8" fill="none" stroke="#222" stroke-width="1.0"/>
<rect x="348.20" y="146.90" width="4.8" height="4.8" fill="none" stroke="#222" stroke-width="1.0"/>
<rect x="345.20" y="148.78" width="4.8" height="4.8" fill="none" stroke="#222" stroke-width="1.0"/>
<rect x="344.20" y="151.40" width="4.8" height="4.8" fill="none" stroke="#222" stroke-width="1.0"/>
<rect x="345.20" y="157.21" width="4.8" height="4.8" fill="none" stroke="#222" stroke-width="1.0"/>
<rect x="344.20" y="165.28" width="4.8" height="4.8" fill="none" stroke="#222" stroke-width="1.0"/>
<rect x="346.20" y="166.78" width="4.8" height="4.8" fill="none" stroke="#222" stroke-width="1.0"/>
<line x1="341.10" y1="151.18" x2="354.10" y2="151.18" stroke="#2b3d9f" stroke-width="1.5" />
<rect x="359.50" y="147.28" width="4.8" height="4.8" fill="#a8202c" stroke="#111" stroke-width="1.0"/>
<rect x="362.80" y="150.09" width="4.8" height="4.8" fill="#a8202c" stroke="#111" stroke-width="1.0"/>
<rect x="361.00" y="158.15" width="4.8" height="4.8" fill="#a8202c" stroke="#111" stroke-width="1.0"/>
<rect x="359.00" y="161.15" width="4.8" height="4.8" fill="#a8202c" stroke="#111" stroke-width="1.0"/>
<rect x="363.00" y="162.65" width="4.8" height="4.8" fill="#a8202c" stroke="#111" stroke-width="1.0"/>
<rect x="361.00" y="165.65" width="4.8" height="4.8" fill="#a8202c" stroke="#111" stroke-width="1.0"/>
<rect x="361.00" y="170.90" width="4.8" height="4.8" fill="#a8202c" stroke="#111" stroke-width="1.0"/>
<line x1="356.90" y1="162.80" x2="369.90" y2="162.80" stroke="#2b3d9f" stroke-width="1.5" />
<circle cx="379.20" cy="125.68" r="2.4" fill="none" stroke="#222" stroke-width="1.0"/>
<circle cx="380.20" cy="143.30" r="2.4" fill="none" stroke="#222" stroke-width="1.0"/>
<circle cx="378.20" cy="148.18" r="2.4" fill="none" stroke="#222" stroke-width="1.0"/>
<circle cx="376.20" cy="154.93" r="2.4" fill="none" stroke="#222" stroke-width="1.0"/>
<circle cx="382.20" cy="156.80" r="2.4" fill="none" stroke="#222" stroke-width="1.0"/>
<circle cx="377.20" cy="160.55" r="2.4" fill="none" stroke="#222" stroke-width="1.0"/>
<circle cx="381.20" cy="161.30" r="2.4" fill="none" stroke="#222" stroke-width="1.0"/>
<circle cx="379.20" cy="158.68" r="2.4" fill="none" stroke="#222" stroke-width="1.0"/>
<line x1="372.70" y1="152.68" x2="385.70" y2="152.68" stroke="#2b3d9f" stroke-width="1.5" />
<circle cx="395.00" cy="154.93" r="2.4" fill="#a8202c" stroke="#111" stroke-width="1.0"/>
<circle cx="392.70" cy="163.18" r="2.4" fill="#a8202c" stroke="#111" stroke-width="1.0"/>
<circle cx="397.90" cy="163.93" r="2.4" fill="#a8202c" stroke="#111" stroke-width="1.0"/>
<circle cx="392.70" cy="171.05" r="2.4" fill="#a8202c" stroke="#111" stroke-width="1.0"/>
<circle cx="392.70" cy="175.93" r="2.4" fill="#a8202c" stroke="#111" stroke-width="1.0"/>
<circle cx="397.90" cy="175.18" r="2.4" fill="#a8202c" stroke="#111" stroke-width="1.0"/>
<line x1="388.50" y1="167.68" x2="401.50" y2="167.68" stroke="#2b3d9f" stroke-width="1.5" />
<rect x="408.40" y="68.53" width="4.8" height="4.8" fill="none" stroke="#222" stroke-width="1.0"/>
<rect x="408.40" y="83.53" width="4.8" height="4.8" fill="none" stroke="#222" stroke-width="1.0"/>
<rect x="408.40" y="110.53" width="4.8" height="4.8" fill="none" stroke="#222" stroke-width="1.0"/>
<rect x="411.40" y="115.03" width="4.8" height="4.8" fill="none" stroke="#222" stroke-width="1.0"/>
<rect x="407.40" y="119.53" width="4.8" height="4.8" fill="none" stroke="#222" stroke-width="1.0"/>
<rect x="409.40" y="128.53" width="4.8" height="4.8" fill="none" stroke="#222" stroke-width="1.0"/>
<rect x="406.40" y="131.90" width="4.8" height="4.8" fill="none" stroke="#222" stroke-width="1.0"/>
<rect x="405.40" y="135.65" width="4.8" height="4.8" fill="none" stroke="#222" stroke-width="1.0"/>
<rect x="408.40" y="138.65" width="4.8" height="4.8" fill="none" stroke="#222" stroke-width="1.0"/>
<rect x="406.40" y="142.40" width="4.8" height="4.8" fill="none" stroke="#222" stroke-width="1.0"/>
<rect x="411.40" y="144.65" width="4.8" height="4.8" fill="none" stroke="#222" stroke-width="1.0"/>
<rect x="405.40" y="146.90" width="4.8" height="4.8" fill="none" stroke="#222" stroke-width="1.0"/>
<line x1="404.30" y1="124.93" x2="417.30" y2="124.93" stroke="#2b3d9f" stroke-width="1.5" />
<rect x="425.20" y="113.53" width="4.8" height="4.8" fill="#a8202c" stroke="#111" stroke-width="1.0"/>
<rect x="422.20" y="115.78" width="4.8" height="4.8" fill="#a8202c" stroke="#111" stroke-width="1.0"/>
<rect x="424.20" y="120.28" width="4.8" height="4.8" fill="#a8202c" stroke="#111" stroke-width="1.0"/>
<rect x="421.20" y="141.65" width="4.8" height="4.8" fill="#a8202c" stroke="#111" stroke-width="1.0"/>
<rect x="425.20" y="142.40" width="4.8" height="4.8" fill="#a8202c" stroke="#111" stroke-width="1.0"/>
<rect x="423.20" y="147.65" width="4.8" height="4.8" fill="#a8202c" stroke="#111" stroke-width="1.0"/>
<rect x="425.20" y="157.78" width="4.8" height="4.8" fill="#a8202c" stroke="#111" stroke-width="1.0"/>
<rect x="423.20" y="159.65" width="4.8" height="4.8" fill="#a8202c" stroke="#111" stroke-width="1.0"/>
<line x1="420.10" y1="141.05" x2="433.10" y2="141.05" stroke="#2b3d9f" stroke-width="1.5" />
<circle cx="442.40" cy="79.93" r="2.4" fill="none" stroke="#222" stroke-width="1.0"/>
<circle cx="442.40" cy="104.68" r="2.4" fill="none" stroke="#222" stroke-width="1.0"/>
<circle cx="442.40" cy="116.68" r="2.4" fill="none" stroke="#222" stroke-width="1.0"/>
<circle cx="440.40" cy="120.05" r="2.4" fill="none" stroke="#222" stroke-width="1.0"/>
<circle cx="444.40" cy="123.05" r="2.4" fill="none" stroke="#222" stroke-width="1.0"/>
<circle cx="442.40" cy="129.05" r="2.4" fill="none" stroke="#222" stroke-width="1.0"/>
<circle cx="439.40" cy="133.55" r="2.4" fill="none" stroke="#222" stroke-width="1.0"/>
<circle cx="445.40" cy="136.55" r="2.4" fill="none" stroke="#222" stroke-width="1.0"/>
<circle cx="442.40" cy="139.18" r="2.4" fill="none" stroke="#222" stroke-width="1.0"/>
<circle cx="444.40" cy="151.55" r="2.4" fill="none" stroke="#222" stroke-width="1.0"/>
<circle cx="441.40" cy="154.93" r="2.4" fill="none" stroke="#222" stroke-width="1.0"/>
<line x1="435.90" y1="126.80" x2="448.90" y2="126.80" stroke="#2b3d9f" stroke-width="1.5" />
<circle cx="458.20" cy="124.18" r="2.4" fill="#a8202c" stroke="#111" stroke-width="1.0"/>
<circle cx="458.20" cy="129.05" r="2.4" fill="#a8202c" stroke="#111" stroke-width="1.0"/>
<circle cx="458.20" cy="135.80" r="2.4" fill="#a8202c" stroke="#111" stroke-width="1.0"/>
<circle cx="455.20" cy="141.80" r="2.4" fill="#a8202c" stroke="#111" stroke-width="1.0"/>
<circle cx="461.20" cy="141.80" r="2.4" fill="#a8202c" stroke="#111" stroke-width="1.0"/>
<circle cx="458.20" cy="147.43" r="2.4" fill="#a8202c" stroke="#111" stroke-width="1.0"/>
<circle cx="457.20" cy="152.68" r="2.4" fill="#a8202c" stroke="#111" stroke-width="1.0"/>
<circle cx="460.20" cy="154.93" r="2.4" fill="#a8202c" stroke="#111" stroke-width="1.0"/>
<circle cx="456.70" cy="157.55" r="2.4" fill="#a8202c" stroke="#111" stroke-width="1.0"/>
<line x1="451.70" y1="143.30" x2="464.70" y2="143.30" stroke="#2b3d9f" stroke-width="1.5" />
<line x1="46.20" y1="307.00" x2="46.20" y2="438.75" stroke="#1a1a1a" stroke-width="1.6" />
<line x1="41.00" y1="438.10" x2="179.20" y2="438.10" stroke="#1a1a1a" stroke-width="1.6" />
<line x1="41.00" y1="438.10" x2="46.20" y2="438.10" stroke="#1a1a1a" stroke-width="1.6" />
<text x="37.70" y="441.90" font-size="10.6" text-anchor="end" fill="#2b2b2b" textLength="12.82" lengthAdjust="spacingAndGlyphs" >0.0</text>
<line x1="41.00" y1="405.45" x2="46.20" y2="405.45" stroke="#1a1a1a" stroke-width="1.6" />
<text x="37.70" y="409.25" font-size="10.6" text-anchor="end" fill="#2b2b2b" textLength="12.82" lengthAdjust="spacingAndGlyphs" >0.5</text>
<line x1="41.00" y1="372.80" x2="46.20" y2="372.80" stroke="#1a1a1a" stroke-width="1.6" />
<text x="37.70" y="376.60" font-size="10.6" text-anchor="end" fill="#2b2b2b" textLength="12.82" lengthAdjust="spacingAndGlyphs" >1.0</text>
<line x1="41.00" y1="340.15" x2="46.20" y2="340.15" stroke="#1a1a1a" stroke-width="1.6" />
<text x="37.70" y="343.95" font-size="10.6" text-anchor="end" fill="#2b2b2b" textLength="12.82" lengthAdjust="spacingAndGlyphs" >1.5</text>
<line x1="41.00" y1="307.50" x2="46.20" y2="307.50" stroke="#1a1a1a" stroke-width="1.6" />
<text x="37.70" y="311.30" font-size="10.6" text-anchor="end" fill="#2b2b2b" textLength="12.82" lengthAdjust="spacingAndGlyphs" >2.0</text>
<line x1="57.20" y1="438.10" x2="57.20" y2="443.60" stroke="#1a1a1a" stroke-width="1.6" />
<text transform="translate(61.70,452.60) rotate(-45)" font-size="10.0" text-anchor="end" fill="#2b2b2b" stroke="#2b2b2b" stroke-width="0.25" textLength="24.5" lengthAdjust="spacingAndGlyphs">M/WT</text>
<line x1="73.00" y1="438.10" x2="73.00" y2="443.60" stroke="#1a1a1a" stroke-width="1.6" />
<text transform="translate(77.50,452.60) rotate(-45)" font-size="10.0" text-anchor="end" fill="#2b2b2b" stroke="#2b2b2b" stroke-width="0.25" textLength="23" lengthAdjust="spacingAndGlyphs">M/TG</text>
<line x1="88.80" y1="438.10" x2="88.80" y2="443.60" stroke="#1a1a1a" stroke-width="1.6" />
<text transform="translate(93.30,452.60) rotate(-45)" font-size="10.0" text-anchor="end" fill="#2b2b2b" stroke="#2b2b2b" stroke-width="0.25" textLength="22" lengthAdjust="spacingAndGlyphs">F/WT</text>
<line x1="104.60" y1="438.10" x2="104.60" y2="443.60" stroke="#1a1a1a" stroke-width="1.6" />
<text transform="translate(109.10,452.60) rotate(-45)" font-size="10.0" text-anchor="end" fill="#2b2b2b" stroke="#2b2b2b" stroke-width="0.25" textLength="20.5" lengthAdjust="spacingAndGlyphs">F/TG</text>
<line x1="120.40" y1="438.10" x2="120.40" y2="443.60" stroke="#1a1a1a" stroke-width="1.6" />
<text transform="translate(124.90,452.60) rotate(-45)" font-size="10.0" text-anchor="end" fill="#2b2b2b" stroke="#2b2b2b" stroke-width="0.25" textLength="24.5" lengthAdjust="spacingAndGlyphs">M/WT</text>
<line x1="136.20" y1="438.10" x2="136.20" y2="443.60" stroke="#1a1a1a" stroke-width="1.6" />
<text transform="translate(140.70,452.60) rotate(-45)" font-size="10.0" text-anchor="end" fill="#2b2b2b" stroke="#2b2b2b" stroke-width="0.25" textLength="23" lengthAdjust="spacingAndGlyphs">M/TG</text>
<line x1="152.00" y1="438.10" x2="152.00" y2="443.60" stroke="#1a1a1a" stroke-width="1.6" />
<text transform="translate(156.50,452.60) rotate(-45)" font-size="10.0" text-anchor="end" fill="#2b2b2b" stroke="#2b2b2b" stroke-width="0.25" textLength="22" lengthAdjust="spacingAndGlyphs">F/WT</text>
<line x1="167.80" y1="438.10" x2="167.80" y2="443.60" stroke="#1a1a1a" stroke-width="1.6" />
<text transform="translate(172.30,452.60) rotate(-45)" font-size="10.0" text-anchor="end" fill="#2b2b2b" stroke="#2b2b2b" stroke-width="0.25" textLength="20.5" lengthAdjust="spacingAndGlyphs">F/TG</text>
<line x1="112.60" y1="307.00" x2="112.60" y2="437.10" stroke="#9a9a9a" stroke-width="0.8" stroke-dasharray="1,1"/>
<text transform="translate(17.94,372.00) rotate(-90)" font-size="10.4" text-anchor="middle" fill="#2b2b2b" textLength="61" lengthAdjust="spacingAndGlyphs">Kidneys (% BW)</text>
<rect x="54.80" y="346.24" width="4.8" height="4.8" fill="none" stroke="#222" stroke-width="1.0"/>
<rect x="51.80" y="350.16" width="4.8" height="4.8" fill="none" stroke="#222" stroke-width="1.0"/>
<rect x="56.80" y="350.81" width="4.8" height="4.8" fill="none" stroke="#222" stroke-width="1.0"/>
<rect x="53.80" y="352.77" width="4.8" height="4.8" fill="none" stroke="#222" stroke-width="1.0"/>
<rect x="57.80" y="354.08" width="4.8" height="4.8" fill="none" stroke="#222" stroke-width="1.0"/>
<rect x="51.80" y="355.38" width="4.8" height="4.8" fill="none" stroke="#222" stroke-width="1.0"/>
<rect x="54.80" y="356.03" width="4.8" height="4.8" fill="none" stroke="#222" stroke-width="1.0"/>
<rect x="56.80" y="357.34" width="4.8" height="4.8" fill="none" stroke="#222" stroke-width="1.0"/>
<rect x="52.80" y="358.65" width="4.8" height="4.8" fill="none" stroke="#222" stroke-width="1.0"/>
<rect x="57.80" y="359.30" width="4.8" height="4.8" fill="none" stroke="#222" stroke-width="1.0"/>
<rect x="54.80" y="359.95" width="4.8" height="4.8" fill="none" stroke="#222" stroke-width="1.0"/>
<rect x="52.80" y="361.26" width="4.8" height="4.8" fill="none" stroke="#222" stroke-width="1.0"/>
<rect x="55.80" y="362.56" width="4.8" height="4.8" fill="none" stroke="#222" stroke-width="1.0"/>
<line x1="51.95" y1="356.48" x2="62.45" y2="356.48" stroke="#2b3d9f" stroke-width="1.5" />
<rect x="68.60" y="356.69" width="4.8" height="4.8" fill="#a8202c" stroke="#111" stroke-width="1.0"/>
<rect x="73.60" y="360.61" width="4.8" height="4.8" fill="#a8202c" stroke="#111" stroke-width="1.0"/>
<rect x="68.60" y="362.56" width="4.8" height="4.8" fill="#a8202c" stroke="#111" stroke-width="1.0"/>
<rect x="73.60" y="365.83" width="4.8" height="4.8" fill="#a8202c" stroke="#111" stroke-width="1.0"/>
<rect x="68.60" y="371.71" width="4.8" height="4.8" fill="#a8202c" stroke="#111" stroke-width="1.0"/>
<rect x="73.60" y="373.67" width="4.8" height="4.8" fill="#a8202c" stroke="#111" stroke-width="1.0"/>
<rect x="68.60" y="374.97" width="4.8" height="4.8" fill="#a8202c" stroke="#111" stroke-width="1.0"/>
<line x1="67.75" y1="369.21" x2="78.25" y2="369.21" stroke="#2b3d9f" stroke-width="1.5" />
<circle cx="88.80" cy="349.62" r="2.4" fill="none" stroke="#222" stroke-width="1.0"/>
<circle cx="88.80" cy="356.80" r="2.4" fill="none" stroke="#222" stroke-width="1.0"/>
<circle cx="87.80" cy="359.09" r="2.4" fill="none" stroke="#222" stroke-width="1.0"/>
<circle cx="89.80" cy="361.05" r="2.4" fill="none" stroke="#222" stroke-width="1.0"/>
<circle cx="86.80" cy="363.01" r="2.4" fill="none" stroke="#222" stroke-width="1.0"/>
<circle cx="90.80" cy="363.66" r="2.4" fill="none" stroke="#222" stroke-width="1.0"/>
<circle cx="88.80" cy="364.96" r="2.4" fill="none" stroke="#222" stroke-width="1.0"/>
<circle cx="85.80" cy="367.58" r="2.4" fill="none" stroke="#222" stroke-width="1.0"/>
<circle cx="91.80" cy="367.58" r="2.4" fill="none" stroke="#222" stroke-width="1.0"/>
<line x1="83.55" y1="361.05" x2="94.05" y2="361.05" stroke="#2b3d9f" stroke-width="1.5" />
<circle cx="102.60" cy="367.58" r="2.4" fill="#a8202c" stroke="#111" stroke-width="1.0"/>
<circle cx="106.60" cy="369.54" r="2.4" fill="#a8202c" stroke="#111" stroke-width="1.0"/>
<circle cx="104.60" cy="371.49" r="2.4" fill="#a8202c" stroke="#111" stroke-width="1.0"/>
<circle cx="102.60" cy="374.11" r="2.4" fill="#a8202c" stroke="#111" stroke-width="1.0"/>
<circle cx="106.60" cy="376.07" r="2.4" fill="#a8202c" stroke="#111" stroke-width="1.0"/>
<circle cx="104.60" cy="378.02" r="2.4" fill="#a8202c" stroke="#111" stroke-width="1.0"/>
<circle cx="104.60" cy="385.86" r="2.4" fill="#a8202c" stroke="#111" stroke-width="1.0"/>
<line x1="99.35" y1="374.11" x2="109.85" y2="374.11" stroke="#2b3d9f" stroke-width="1.5" />
<rect x="118.00" y="334.49" width="4.8" height="4.8" fill="none" stroke="#222" stroke-width="1.0"/>
<rect x="118.00" y="338.40" width="4.8" height="4.8" fill="none" stroke="#222" stroke-width="1.0"/>
<rect x="118.00" y="348.20" width="4.8" height="4.8" fill="none" stroke="#222" stroke-width="1.0"/>
<rect x="116.00" y="350.16" width="4.8" height="4.8" fill="none" stroke="#222" stroke-width="1.0"/>
<rect x="120.00" y="351.46" width="4.8" height="4.8" fill="none" stroke="#222" stroke-width="1.0"/>
<rect x="117.00" y="352.77" width="4.8" height="4.8" fill="none" stroke="#222" stroke-width="1.0"/>
<rect x="120.00" y="354.08" width="4.8" height="4.8" fill="none" stroke="#222" stroke-width="1.0"/>
<rect x="116.00" y="355.38" width="4.8" height="4.8" fill="none" stroke="#222" stroke-width="1.0"/>
<rect x="118.00" y="356.03" width="4.8" height="4.8" fill="none" stroke="#222" stroke-width="1.0"/>
<rect x="120.00" y="357.34" width="4.8" height="4.8" fill="none" stroke="#222" stroke-width="1.0"/>
<rect x="116.00" y="357.99" width="4.8" height="4.8" fill="none" stroke="#222" stroke-width="1.0"/>
<rect x="119.00" y="359.30" width="4.8" height="4.8" fill="none" stroke="#222" stroke-width="1.0"/>
<rect x="116.00" y="360.61" width="4.8" height="4.8" fill="none" stroke="#222" stroke-width="1.0"/>
<rect x="120.00" y="361.26" width="4.8" height="4.8" fill="none" stroke="#222" stroke-width="1.0"/>
<rect x="118.00" y="365.18" width="4.8" height="4.8" fill="none" stroke="#222" stroke-width="1.0"/>
<line x1="115.15" y1="356.48" x2="125.65" y2="356.48" stroke="#2b3d9f" stroke-width="1.5" />
<rect x="133.80" y="355.38" width="4.8" height="4.8" fill="#a8202c" stroke="#111" stroke-width="1.0"/>
<rect x="135.80" y="361.26" width="4.8" height="4.8" fill="#a8202c" stroke="#111" stroke-width="1.0"/>
<rect x="132.80" y="365.83" width="4.8" height="4.8" fill="#a8202c" stroke="#111" stroke-width="1.0"/>
<rect x="131.80" y="371.05" width="4.8" height="4.8" fill="#a8202c" stroke="#111" stroke-width="1.0"/>
<rect x="135.80" y="373.01" width="4.8" height="4.8" fill="#a8202c" stroke="#111" stroke-width="1.0"/>
<rect x="131.80" y="375.62" width="4.8" height="4.8" fill="#a8202c" stroke="#111" stroke-width="1.0"/>
<rect x="134.80" y="377.58" width="4.8" height="4.8" fill="#a8202c" stroke="#111" stroke-width="1.0"/>
<line x1="130.95" y1="371.49" x2="141.45" y2="371.49" stroke="#2b3d9f" stroke-width="1.5" />
<circle cx="152.00" cy="350.60" r="2.4" fill="none" stroke="#222" stroke-width="1.0"/>
<circle cx="151.00" cy="353.21" r="2.4" fill="none" stroke="#222" stroke-width="1.0"/>
<circle cx="153.00" cy="355.17" r="2.4" fill="none" stroke="#222" stroke-width="1.0"/>
<circle cx="150.00" cy="358.43" r="2.4" fill="none" stroke="#222" stroke-width="1.0"/>
<circle cx="154.00" cy="359.74" r="2.4" fill="none" stroke="#222" stroke-width="1.0"/>
<circle cx="152.00" cy="361.70" r="2.4" fill="none" stroke="#222" stroke-width="1.0"/>
<circle cx="150.00" cy="363.01" r="2.4" fill="none" stroke="#222" stroke-width="1.0"/>
<circle cx="154.00" cy="364.31" r="2.4" fill="none" stroke="#222" stroke-width="1.0"/>
<circle cx="152.00" cy="365.62" r="2.4" fill="none" stroke="#222" stroke-width="1.0"/>
<circle cx="150.00" cy="366.92" r="2.4" fill="none" stroke="#222" stroke-width="1.0"/>
<circle cx="154.00" cy="368.23" r="2.4" fill="none" stroke="#222" stroke-width="1.0"/>
<circle cx="151.00" cy="370.84" r="2.4" fill="none" stroke="#222" stroke-width="1.0"/>
<circle cx="153.00" cy="372.80" r="2.4" fill="none" stroke="#222" stroke-width="1.0"/>
<circle cx="152.00" cy="375.41" r="2.4" fill="none" stroke="#222" stroke-width="1.0"/>
<line x1="146.75" y1="364.31" x2="157.25" y2="364.31" stroke="#2b3d9f" stroke-width="1.5" />
<circle cx="167.80" cy="361.05" r="2.4" fill="#a8202c" stroke="#111" stroke-width="1.0"/>
<circle cx="167.80" cy="366.92" r="2.4" fill="#a8202c" stroke="#111" stroke-width="1.0"/>
<circle cx="167.80" cy="370.84" r="2.4" fill="#a8202c" stroke="#111" stroke-width="1.0"/>
<circle cx="165.80" cy="374.11" r="2.4" fill="#a8202c" stroke="#111" stroke-width="1.0"/>
<circle cx="169.80" cy="374.76" r="2.4" fill="#a8202c" stroke="#111" stroke-width="1.0"/>
<circle cx="166.80" cy="377.37" r="2.4" fill="#a8202c" stroke="#111" stroke-width="1.0"/>
<circle cx="168.80" cy="379.33" r="2.4" fill="#a8202c" stroke="#111" stroke-width="1.0"/>
<circle cx="167.80" cy="384.55" r="2.4" fill="#a8202c" stroke="#111" stroke-width="1.0"/>
<line x1="162.55" y1="373.78" x2="173.05" y2="373.78" stroke="#2b3d9f" stroke-width="1.5" />
<line x1="234.70" y1="307.00" x2="234.70" y2="438.45" stroke="#1a1a1a" stroke-width="1.6" />
<line x1="229.60" y1="437.80" x2="367.10" y2="437.80" stroke="#1a1a1a" stroke-width="1.6" />
<line x1="229.60" y1="437.80" x2="234.70" y2="437.80" stroke="#1a1a1a" stroke-width="1.6" />
<text x="226.30" y="441.60" font-size="10.6" text-anchor="end" fill="#2b2b2b" textLength="5.13" lengthAdjust="spacingAndGlyphs" >0</text>
<line x1="229.60" y1="411.65" x2="234.70" y2="411.65" stroke="#1a1a1a" stroke-width="1.6" />
<text x="226.30" y="415.45" font-size="10.6" text-anchor="end" fill="#2b2b2b" textLength="10.25" lengthAdjust="spacingAndGlyphs" >10</text>
<line x1="229.60" y1="385.50" x2="234.70" y2="385.50" stroke="#1a1a1a" stroke-width="1.6" />
<text x="226.30" y="389.30" font-size="10.6" text-anchor="end" fill="#2b2b2b" textLength="10.25" lengthAdjust="spacingAndGlyphs" >20</text>
<line x1="229.60" y1="359.35" x2="234.70" y2="359.35" stroke="#1a1a1a" stroke-width="1.6" />
<text x="226.30" y="363.15" font-size="10.6" text-anchor="end" fill="#2b2b2b" textLength="10.25" lengthAdjust="spacingAndGlyphs" >30</text>
<line x1="229.60" y1="333.20" x2="234.70" y2="333.20" stroke="#1a1a1a" stroke-width="1.6" />
<text x="226.30" y="337.00" font-size="10.6" text-anchor="end" fill="#2b2b2b" textLength="10.25" lengthAdjust="spacingAndGlyphs" >40</text>
<line x1="229.60" y1="307.05" x2="234.70" y2="307.05" stroke="#1a1a1a" stroke-width="1.6" />
<text x="226.30" y="310.85" font-size="10.6" text-anchor="end" fill="#2b2b2b" textLength="10.25" lengthAdjust="spacingAndGlyphs" >50</text>
<line x1="245.50" y1="437.80" x2="245.50" y2="443.30" stroke="#1a1a1a" stroke-width="1.6" />
<text transform="translate(250.00,452.30) rotate(-45)" font-size="10.0" text-anchor="end" fill="#2b2b2b" stroke="#2b2b2b" stroke-width="0.25" textLength="24.5" lengthAdjust="spacingAndGlyphs">M/WT</text>
<line x1="261.30" y1="437.80" x2="261.30" y2="443.30" stroke="#1a1a1a" stroke-width="1.6" />
<text transform="translate(265.80,452.30) rotate(-45)" font-size="10.0" text-anchor="end" fill="#2b2b2b" stroke="#2b2b2b" stroke-width="0.25" textLength="23" lengthAdjust="spacingAndGlyphs">M/TG</text>
<line x1="277.10" y1="437.80" x2="277.10" y2="443.30" stroke="#1a1a1a" stroke-width="1.6" />
<text transform="translate(281.60,452.30) rotate(-45)" font-size="10.0" text-anchor="end" fill="#2b2b2b" stroke="#2b2b2b" stroke-width="0.25" textLength="22" lengthAdjust="spacingAndGlyphs">F/WT</text>
<line x1="292.90" y1="437.80" x2="292.90" y2="443.30" stroke="#1a1a1a" stroke-width="1.6" />
<text transform="translate(297.40,452.30) rotate(-45)" font-size="10.0" text-anchor="end" fill="#2b2b2b" stroke="#2b2b2b" stroke-width="0.25" textLength="20.5" lengthAdjust="spacingAndGlyphs">F/TG</text>
<line x1="308.70" y1="437.80" x2="308.70" y2="443.30" stroke="#1a1a1a" stroke-width="1.6" />
<text transform="translate(313.20,452.30) rotate(-45)" font-size="10.0" text-anchor="end" fill="#2b2b2b" stroke="#2b2b2b" stroke-width="0.25" textLength="24.5" lengthAdjust="spacingAndGlyphs">M/WT</text>
<line x1="324.50" y1="437.80" x2="324.50" y2="443.30" stroke="#1a1a1a" stroke-width="1.6" />
<text transform="translate(329.00,452.30) rotate(-45)" font-size="10.0" text-anchor="end" fill="#2b2b2b" stroke="#2b2b2b" stroke-width="0.25" textLength="23" lengthAdjust="spacingAndGlyphs">M/TG</text>
<line x1="340.30" y1="437.80" x2="340.30" y2="443.30" stroke="#1a1a1a" stroke-width="1.6" />
<text transform="translate(344.80,452.30) rotate(-45)" font-size="10.0" text-anchor="end" fill="#2b2b2b" stroke="#2b2b2b" stroke-width="0.25" textLength="22" lengthAdjust="spacingAndGlyphs">F/WT</text>
<line x1="356.10" y1="437.80" x2="356.10" y2="443.30" stroke="#1a1a1a" stroke-width="1.6" />
<text transform="translate(360.60,452.30) rotate(-45)" font-size="10.0" text-anchor="end" fill="#2b2b2b" stroke="#2b2b2b" stroke-width="0.25" textLength="20.5" lengthAdjust="spacingAndGlyphs">F/TG</text>
<line x1="300.70" y1="307.00" x2="300.70" y2="436.80" stroke="#9a9a9a" stroke-width="0.8" stroke-dasharray="1,1"/>
<text transform="translate(208.94,367.30) rotate(-90)" font-size="10.4" text-anchor="middle" fill="#2b2b2b" textLength="106.5" lengthAdjust="spacingAndGlyphs">Serum urea nitrogen (mg/dL)</text>
<rect x="243.10" y="357.73" width="4.8" height="4.8" fill="none" stroke="#222" stroke-width="1.0"/>
<rect x="243.10" y="362.96" width="4.8" height="4.8" fill="none" stroke="#222" stroke-width="1.0"/>
<rect x="243.10" y="367.67" width="4.8" height="4.8" fill="none" stroke="#222" stroke-width="1.0"/>
<rect x="245.10" y="370.81" width="4.8" height="4.8" fill="none" stroke="#222" stroke-width="1.0"/>
<rect x="241.10" y="375.26" width="4.8" height="4.8" fill="none" stroke="#222" stroke-width="1.0"/>
<rect x="245.10" y="378.39" width="4.8" height="4.8" fill="none" stroke="#222" stroke-width="1.0"/>
<rect x="242.10" y="380.75" width="4.8" height="4.8" fill="none" stroke="#222" stroke-width="1.0"/>
<rect x="244.10" y="376.56" width="4.8" height="4.8" fill="none" stroke="#222" stroke-width="1.0"/>
<line x1="239.25" y1="375.30" x2="251.75" y2="375.30" stroke="#2b3d9f" stroke-width="1.5" />
<rect x="258.90" y="332.37" width="4.8" height="4.8" fill="#a8202c" stroke="#111" stroke-width="1.0"/>
<rect x="261.90" y="352.24" width="4.8" height="4.8" fill="#a8202c" stroke="#111" stroke-width="1.0"/>
<rect x="255.90" y="355.12" width="4.8" height="4.8" fill="#a8202c" stroke="#111" stroke-width="1.0"/>
<rect x="258.90" y="357.21" width="4.8" height="4.8" fill="#a8202c" stroke="#111" stroke-width="1.0"/>
<rect x="261.90" y="369.76" width="4.8" height="4.8" fill="#a8202c" stroke="#111" stroke-width="1.0"/>
<rect x="256.90" y="372.64" width="4.8" height="4.8" fill="#a8202c" stroke="#111" stroke-width="1.0"/>
<rect x="258.90" y="382.32" width="4.8" height="4.8" fill="#a8202c" stroke="#111" stroke-width="1.0"/>
<line x1="255.05" y1="363.01" x2="267.55" y2="363.01" stroke="#2b3d9f" stroke-width="1.5" />
<circle cx="279.10" cy="364.58" r="2.4" fill="none" stroke="#222" stroke-width="1.0"/>
<circle cx="275.10" cy="368.76" r="2.4" fill="none" stroke="#222" stroke-width="1.0"/>
<circle cx="274.10" cy="374.26" r="2.4" fill="none" stroke="#222" stroke-width="1.0"/>
<circle cx="280.10" cy="374.26" r="2.4" fill="none" stroke="#222" stroke-width="1.0"/>
<circle cx="277.10" cy="379.22" r="2.4" fill="none" stroke="#222" stroke-width="1.0"/>
<circle cx="274.10" cy="382.88" r="2.4" fill="none" stroke="#222" stroke-width="1.0"/>
<circle cx="280.10" cy="382.88" r="2.4" fill="none" stroke="#222" stroke-width="1.0"/>
<circle cx="277.10" cy="386.28" r="2.4" fill="none" stroke="#222" stroke-width="1.0"/>
<circle cx="277.10" cy="393.61" r="2.4" fill="none" stroke="#222" stroke-width="1.0"/>
<line x1="270.85" y1="378.44" x2="283.35" y2="378.44" stroke="#2b3d9f" stroke-width="1.5" />
<circle cx="292.90" cy="330.85" r="2.4" fill="#a8202c" stroke="#111" stroke-width="1.0"/>
<circle cx="289.90" cy="355.95" r="2.4" fill="#a8202c" stroke="#111" stroke-width="1.0"/>
<circle cx="294.90" cy="359.09" r="2.4" fill="#a8202c" stroke="#111" stroke-width="1.0"/>
<circle cx="289.90" cy="371.12" r="2.4" fill="#a8202c" stroke="#111" stroke-width="1.0"/>
<circle cx="295.90" cy="372.69" r="2.4" fill="#a8202c" stroke="#111" stroke-width="1.0"/>
<circle cx="292.90" cy="376.09" r="2.4" fill="#a8202c" stroke="#111" stroke-width="1.0"/>
<circle cx="290.90" cy="377.92" r="2.4" fill="#a8202c" stroke="#111" stroke-width="1.0"/>
<circle cx="295.90" cy="377.92" r="2.4" fill="#a8202c" stroke="#111" stroke-width="1.0"/>
<line x1="286.65" y1="365.36" x2="299.15" y2="365.36" stroke="#2b3d9f" stroke-width="1.5" />
<rect x="306.30" y="357.47" width="4.8" height="4.8" fill="none" stroke="#222" stroke-width="1.0"/>
<rect x="304.30" y="374.21" width="4.8" height="4.8" fill="none" stroke="#222" stroke-width="1.0"/>
<rect x="309.30" y="376.30" width="4.8" height="4.8" fill="none" stroke="#222" stroke-width="1.0"/>
<rect x="306.30" y="381.01" width="4.8" height="4.8" fill="none" stroke="#222" stroke-width="1.0"/>
<rect x="304.30" y="385.98" width="4.8" height="4.8" fill="none" stroke="#222" stroke-width="1.0"/>
<rect x="309.30" y="387.28" width="4.8" height="4.8" fill="none" stroke="#222" stroke-width="1.0"/>
<rect x="305.30" y="390.16" width="4.8" height="4.8" fill="none" stroke="#222" stroke-width="1.0"/>
<rect x="306.30" y="393.56" width="4.8" height="4.8" fill="none" stroke="#222" stroke-width="1.0"/>
<rect x="304.30" y="395.65" width="4.8" height="4.8" fill="none" stroke="#222" stroke-width="1.0"/>
<line x1="302.45" y1="384.72" x2="314.95" y2="384.72" stroke="#2b3d9f" stroke-width="1.5" />
<rect x="322.10" y="327.40" width="4.8" height="4.8" fill="#a8202c" stroke="#111" stroke-width="1.0"/>
<rect x="320.10" y="341.78" width="4.8" height="4.8" fill="#a8202c" stroke="#111" stroke-width="1.0"/>
<rect x="325.10" y="344.66" width="4.8" height="4.8" fill="#a8202c" stroke="#111" stroke-width="1.0"/>
<rect x="320.10" y="349.11" width="4.8" height="4.8" fill="#a8202c" stroke="#111" stroke-width="1.0"/>
<rect x="322.10" y="355.90" width="4.8" height="4.8" fill="#a8202c" stroke="#111" stroke-width="1.0"/>
<rect x="320.10" y="361.92" width="4.8" height="4.8" fill="#a8202c" stroke="#111" stroke-width="1.0"/>
<rect x="325.10" y="365.06" width="4.8" height="4.8" fill="#a8202c" stroke="#111" stroke-width="1.0"/>
<rect x="320.10" y="368.98" width="4.8" height="4.8" fill="#a8202c" stroke="#111" stroke-width="1.0"/>
<rect x="325.10" y="373.42" width="4.8" height="4.8" fill="#a8202c" stroke="#111" stroke-width="1.0"/>
<rect x="322.10" y="397.22" width="4.8" height="4.8" fill="#a8202c" stroke="#111" stroke-width="1.0"/>
<line x1="318.25" y1="361.18" x2="330.75" y2="361.18" stroke="#2b3d9f" stroke-width="1.5" />
<circle cx="340.30" cy="354.90" r="2.4" fill="none" stroke="#222" stroke-width="1.0"/>
<circle cx="340.30" cy="361.97" r="2.4" fill="none" stroke="#222" stroke-width="1.0"/>
<circle cx="338.30" cy="367.19" r="2.4" fill="none" stroke="#222" stroke-width="1.0"/>
<circle cx="343.30" cy="370.33" r="2.4" fill="none" stroke="#222" stroke-width="1.0"/>
<circle cx="338.30" cy="370.33" r="2.4" fill="none" stroke="#222" stroke-width="1.0"/>
<circle cx="340.30" cy="375.82" r="2.4" fill="none" stroke="#222" stroke-width="1.0"/>
<circle cx="338.30" cy="380.79" r="2.4" fill="none" stroke="#222" stroke-width="1.0"/>
<circle cx="342.30" cy="384.98" r="2.4" fill="none" stroke="#222" stroke-width="1.0"/>
<circle cx="340.30" cy="389.16" r="2.4" fill="none" stroke="#222" stroke-width="1.0"/>
<circle cx="339.30" cy="395.18" r="2.4" fill="none" stroke="#222" stroke-width="1.0"/>
<circle cx="342.30" cy="395.70" r="2.4" fill="none" stroke="#222" stroke-width="1.0"/>
<circle cx="340.30" cy="405.11" r="2.4" fill="none" stroke="#222" stroke-width="1.0"/>
<line x1="334.05" y1="377.92" x2="346.55" y2="377.92" stroke="#2b3d9f" stroke-width="1.5" />
<circle cx="356.10" cy="309.66" r="2.4" fill="#a8202c" stroke="#111" stroke-width="1.0"/>
<circle cx="356.10" cy="327.45" r="2.4" fill="#a8202c" stroke="#111" stroke-width="1.0"/>
<circle cx="359.10" cy="349.15" r="2.4" fill="#a8202c" stroke="#111" stroke-width="1.0"/>
<circle cx="355.10" cy="351.50" r="2.4" fill="#a8202c" stroke="#111" stroke-width="1.0"/>
<circle cx="359.10" cy="354.90" r="2.4" fill="#a8202c" stroke="#111" stroke-width="1.0"/>
<circle cx="353.10" cy="356.47" r="2.4" fill="#a8202c" stroke="#111" stroke-width="1.0"/>
<circle cx="356.10" cy="358.83" r="2.4" fill="#a8202c" stroke="#111" stroke-width="1.0"/>
<circle cx="356.10" cy="363.27" r="2.4" fill="#a8202c" stroke="#111" stroke-width="1.0"/>
<circle cx="354.10" cy="370.33" r="2.4" fill="#a8202c" stroke="#111" stroke-width="1.0"/>
<circle cx="359.10" cy="370.33" r="2.4" fill="#a8202c" stroke="#111" stroke-width="1.0"/>
<circle cx="353.10" cy="375.82" r="2.4" fill="#a8202c" stroke="#111" stroke-width="1.0"/>
<circle cx="359.10" cy="377.39" r="2.4" fill="#a8202c" stroke="#111" stroke-width="1.0"/>
<circle cx="356.10" cy="382.36" r="2.4" fill="#a8202c" stroke="#111" stroke-width="1.0"/>
<circle cx="356.10" cy="393.08" r="2.4" fill="#a8202c" stroke="#111" stroke-width="1.0"/>
<line x1="349.85" y1="361.18" x2="362.35" y2="361.18" stroke="#2b3d9f" stroke-width="1.5" />
<line x1="423.10" y1="305.40" x2="423.10" y2="438.85" stroke="#1a1a1a" stroke-width="1.6" />
<line x1="417.60" y1="438.20" x2="512.00" y2="438.20" stroke="#1a1a1a" stroke-width="1.6" />
<line x1="417.60" y1="438.20" x2="423.10" y2="438.20" stroke="#1a1a1a" stroke-width="1.6" />
<text x="414.30" y="442.00" font-size="10.6" text-anchor="end" fill="#2b2b2b" textLength="5.13" lengthAdjust="spacingAndGlyphs" >0</text>
<line x1="417.60" y1="405.00" x2="423.10" y2="405.00" stroke="#1a1a1a" stroke-width="1.6" />
<text x="414.30" y="408.80" font-size="10.6" text-anchor="end" fill="#2b2b2b" textLength="5.13" lengthAdjust="spacingAndGlyphs" >5</text>
<line x1="417.60" y1="371.80" x2="423.10" y2="371.80" stroke="#1a1a1a" stroke-width="1.6" />
<text x="414.30" y="375.60" font-size="10.6" text-anchor="end" fill="#2b2b2b" textLength="10.25" lengthAdjust="spacingAndGlyphs" >10</text>
<line x1="417.60" y1="338.60" x2="423.10" y2="338.60" stroke="#1a1a1a" stroke-width="1.6" />
<text x="414.30" y="342.40" font-size="10.6" text-anchor="end" fill="#2b2b2b" textLength="10.25" lengthAdjust="spacingAndGlyphs" >15</text>
<line x1="417.60" y1="305.40" x2="423.10" y2="305.40" stroke="#1a1a1a" stroke-width="1.6" />
<text x="414.30" y="309.20" font-size="10.6" text-anchor="end" fill="#2b2b2b" textLength="10.25" lengthAdjust="spacingAndGlyphs" >20</text>
<line x1="436.60" y1="438.20" x2="436.60" y2="443.70" stroke="#1a1a1a" stroke-width="1.6" />
<text transform="translate(439.10,452.70) rotate(-45)" font-size="10.0" text-anchor="end" fill="#2b2b2b" stroke="#2b2b2b" stroke-width="0.25" textLength="24.5" lengthAdjust="spacingAndGlyphs">M/WT</text>
<line x1="456.80" y1="438.20" x2="456.80" y2="443.70" stroke="#1a1a1a" stroke-width="1.6" />
<text transform="translate(459.30,452.70) rotate(-45)" font-size="10.0" text-anchor="end" fill="#2b2b2b" stroke="#2b2b2b" stroke-width="0.25" textLength="23" lengthAdjust="spacingAndGlyphs">M/TG</text>
<line x1="477.10" y1="438.20" x2="477.10" y2="443.70" stroke="#1a1a1a" stroke-width="1.6" />
<text transform="translate(479.60,452.70) rotate(-45)" font-size="10.0" text-anchor="end" fill="#2b2b2b" stroke="#2b2b2b" stroke-width="0.25" textLength="22" lengthAdjust="spacingAndGlyphs">F/WT</text>
<line x1="497.40" y1="438.20" x2="497.40" y2="443.70" stroke="#1a1a1a" stroke-width="1.6" />
<text transform="translate(499.90,452.70) rotate(-45)" font-size="10.0" text-anchor="end" fill="#2b2b2b" stroke="#2b2b2b" stroke-width="0.25" textLength="20.5" lengthAdjust="spacingAndGlyphs">F/TG</text>
<text transform="translate(398.34,370.60) rotate(-90)" font-size="10.4" text-anchor="middle" fill="#2b2b2b" textLength="84" lengthAdjust="spacingAndGlyphs">Urinary ACR (mg/g)</text>
<rect x="433.70" y="324.41" width="5.8" height="5.8" fill="none" stroke="#222" stroke-width="1.0"/>
<rect x="433.70" y="393.47" width="5.8" height="5.8" fill="none" stroke="#222" stroke-width="1.0"/>
<rect x="433.70" y="401.77" width="5.8" height="5.8" fill="none" stroke="#222" stroke-width="1.0"/>
<rect x="435.70" y="407.41" width="5.8" height="5.8" fill="none" stroke="#222" stroke-width="1.0"/>
<rect x="428.70" y="409.74" width="5.8" height="5.8" fill="none" stroke="#222" stroke-width="1.0"/>
<rect x="438.70" y="409.74" width="5.8" height="5.8" fill="none" stroke="#222" stroke-width="1.0"/>
<rect x="433.70" y="413.06" width="5.8" height="5.8" fill="none" stroke="#222" stroke-width="1.0"/>
<rect x="431.70" y="418.70" width="5.8" height="5.8" fill="none" stroke="#222" stroke-width="1.0"/>
<rect x="435.70" y="420.69" width="5.8" height="5.8" fill="none" stroke="#222" stroke-width="1.0"/>
<line x1="428.40" y1="404.34" x2="444.80" y2="404.34" stroke="#2b3d9f" stroke-width="1.5" />
<rect x="457.90" y="388.49" width="5.8" height="5.8" fill="#a8202c" stroke="#111" stroke-width="1.0"/>
<rect x="449.90" y="390.81" width="5.8" height="5.8" fill="#a8202c" stroke="#111" stroke-width="1.0"/>
<rect x="453.90" y="392.80" width="5.8" height="5.8" fill="#a8202c" stroke="#111" stroke-width="1.0"/>
<rect x="453.90" y="399.44" width="5.8" height="5.8" fill="#a8202c" stroke="#111" stroke-width="1.0"/>
<rect x="449.90" y="406.42" width="5.8" height="5.8" fill="#a8202c" stroke="#111" stroke-width="1.0"/>
<rect x="457.90" y="409.07" width="5.8" height="5.8" fill="#a8202c" stroke="#111" stroke-width="1.0"/>
<rect x="449.90" y="414.05" width="5.8" height="5.8" fill="#a8202c" stroke="#111" stroke-width="1.0"/>
<rect x="453.90" y="411.40" width="5.8" height="5.8" fill="#a8202c" stroke="#111" stroke-width="1.0"/>
<line x1="448.60" y1="404.34" x2="465.00" y2="404.34" stroke="#2b3d9f" stroke-width="1.5" />
<circle cx="477.10" cy="358.52" r="2.9" fill="none" stroke="#222" stroke-width="1.0"/>
<circle cx="477.10" cy="381.43" r="2.9" fill="none" stroke="#222" stroke-width="1.0"/>
<circle cx="473.10" cy="399.02" r="2.9" fill="none" stroke="#222" stroke-width="1.0"/>
<circle cx="481.10" cy="399.02" r="2.9" fill="none" stroke="#222" stroke-width="1.0"/>
<circle cx="473.10" cy="402.34" r="2.9" fill="none" stroke="#222" stroke-width="1.0"/>
<circle cx="481.10" cy="406.99" r="2.9" fill="none" stroke="#222" stroke-width="1.0"/>
<circle cx="473.10" cy="412.64" r="2.9" fill="none" stroke="#222" stroke-width="1.0"/>
<circle cx="477.10" cy="414.30" r="2.9" fill="none" stroke="#222" stroke-width="1.0"/>
<circle cx="473.10" cy="416.29" r="2.9" fill="none" stroke="#222" stroke-width="1.0"/>
<circle cx="481.10" cy="416.29" r="2.9" fill="none" stroke="#222" stroke-width="1.0"/>
<line x1="468.90" y1="401.02" x2="485.30" y2="401.02" stroke="#2b3d9f" stroke-width="1.5" />
<circle cx="497.40" cy="371.14" r="2.9" fill="#a8202c" stroke="#111" stroke-width="1.0"/>
<circle cx="493.40" cy="398.03" r="2.9" fill="#a8202c" stroke="#111" stroke-width="1.0"/>
<circle cx="497.40" cy="402.34" r="2.9" fill="#a8202c" stroke="#111" stroke-width="1.0"/>
<circle cx="493.40" cy="408.65" r="2.9" fill="#a8202c" stroke="#111" stroke-width="1.0"/>
<circle cx="501.40" cy="408.65" r="2.9" fill="#a8202c" stroke="#111" stroke-width="1.0"/>
<circle cx="497.40" cy="408.65" r="2.9" fill="#a8202c" stroke="#111" stroke-width="1.0"/>
<circle cx="497.40" cy="413.63" r="2.9" fill="#a8202c" stroke="#111" stroke-width="1.0"/>
<circle cx="499.40" cy="419.28" r="2.9" fill="#a8202c" stroke="#111" stroke-width="1.0"/>
<circle cx="495.40" cy="421.60" r="2.9" fill="#a8202c" stroke="#111" stroke-width="1.0"/>
<line x1="489.20" y1="405.66" x2="505.60" y2="405.66" stroke="#2b3d9f" stroke-width="1.5" />
<text x="372.10" y="19.60" font-size="11.2" text-anchor="middle" fill="#111" font-weight="bold" textLength="36.6" lengthAdjust="spacingAndGlyphs" >6 week</text>
<text x="372.10" y="31.20" font-size="8.6" text-anchor="middle" fill="#e5383f" textLength="52.7" lengthAdjust="spacingAndGlyphs" >Gt: P = 0.0001</text>
<text x="372.10" y="41.30" font-size="8.6" text-anchor="middle" fill="#2b2b2b" textLength="52.5" lengthAdjust="spacingAndGlyphs" >Sex: P = 0.285</text>
<text x="372.10" y="51.00" font-size="8.6" text-anchor="middle" fill="#2b2b2b" textLength="49" lengthAdjust="spacingAndGlyphs" >Int: P = 0.586</text>
<text x="435.50" y="19.60" font-size="11.2" text-anchor="middle" fill="#111" font-weight="bold" textLength="43.5" lengthAdjust="spacingAndGlyphs" >16 week</text>
<text x="435.50" y="31.20" font-size="8.6" text-anchor="middle" fill="#e5383f" textLength="48.6" lengthAdjust="spacingAndGlyphs" >Gt: P = 0.001</text>
<text x="435.50" y="41.30" font-size="8.6" text-anchor="middle" fill="#2b2b2b" textLength="52.8" lengthAdjust="spacingAndGlyphs" >Sex: P = 0.627</text>
<text x="435.50" y="51.00" font-size="8.6" text-anchor="middle" fill="#2b2b2b" textLength="49.4" lengthAdjust="spacingAndGlyphs" >Int: P = 0.954</text>
<text x="81.80" y="268.80" font-size="11.2" text-anchor="middle" fill="#111" font-weight="bold" textLength="42.5" lengthAdjust="spacingAndGlyphs" >6 weeks</text>
<text x="81.80" y="281.30" font-size="8.6" text-anchor="middle" fill="#e5383f" textLength="48" lengthAdjust="spacingAndGlyphs" >Gt: P&lt;0.0001</text>
<text x="81.80" y="290.00" font-size="8.6" text-anchor="middle" fill="#e5383f" textLength="48" lengthAdjust="spacingAndGlyphs" >Sex: P = 0.01</text>
<text x="81.80" y="299.50" font-size="8.6" text-anchor="middle" fill="#2b2b2b" textLength="48" lengthAdjust="spacingAndGlyphs" >Int: P = 0.839</text>
<text x="145.40" y="268.80" font-size="11.2" text-anchor="middle" fill="#111" font-weight="bold" textLength="48.2" lengthAdjust="spacingAndGlyphs" >16 weeks</text>
<text x="145.40" y="281.30" font-size="8.6" text-anchor="middle" fill="#e5383f" textLength="48.2" lengthAdjust="spacingAndGlyphs" >Gt: P&lt;0.0001</text>
<text x="145.40" y="290.00" font-size="8.6" text-anchor="middle" fill="#e5383f" textLength="53" lengthAdjust="spacingAndGlyphs" >Sex: P = 0.011</text>
<text x="145.40" y="299.50" font-size="8.6" text-anchor="middle" fill="#2b2b2b" textLength="49" lengthAdjust="spacingAndGlyphs" >Int: P = 0.204</text>
<text x="269.30" y="269.00" font-size="11.2" text-anchor="middle" fill="#111" font-weight="bold" textLength="43.5" lengthAdjust="spacingAndGlyphs" >6 weeks</text>
<text x="269.30" y="280.70" font-size="8.6" text-anchor="middle" fill="#e5383f" textLength="49.1" lengthAdjust="spacingAndGlyphs" >Gt: P = 0.001</text>
<text x="269.30" y="290.20" font-size="8.6" text-anchor="middle" fill="#2b2b2b" textLength="52.4" lengthAdjust="spacingAndGlyphs" >Sex: P = 0.437</text>
<text x="269.30" y="299.70" font-size="8.6" text-anchor="middle" fill="#2b2b2b" textLength="49.5" lengthAdjust="spacingAndGlyphs" >Int: P = 0.935</text>
<text x="333.30" y="269.00" font-size="11.2" text-anchor="middle" fill="#111" font-weight="bold" textLength="49.1" lengthAdjust="spacingAndGlyphs" >16 weeks</text>
<text x="333.30" y="280.70" font-size="8.6" text-anchor="middle" fill="#e5383f" textLength="48.4" lengthAdjust="spacingAndGlyphs" >Gt: P&lt;0.0001</text>
<text x="333.30" y="290.20" font-size="8.6" text-anchor="middle" fill="#2b2b2b" textLength="52.2" lengthAdjust="spacingAndGlyphs" >Sex: P = 0.509</text>
<text x="333.30" y="299.70" font-size="8.6" text-anchor="middle" fill="#2b2b2b" textLength="48.8" lengthAdjust="spacingAndGlyphs" >Int: P = 0.472</text>
<text x="468.50" y="268.90" font-size="11.2" text-anchor="middle" fill="#111" font-weight="bold" textLength="49.2" lengthAdjust="spacingAndGlyphs" >16 weeks</text>
<text x="468.50" y="281.20" font-size="8.6" text-anchor="middle" fill="#2b2b2b" textLength="49.1" lengthAdjust="spacingAndGlyphs" >Gt: P = 0.696</text>
<text x="468.50" y="290.80" font-size="8.6" text-anchor="middle" fill="#2b2b2b" textLength="52.4" lengthAdjust="spacingAndGlyphs" >Sex: P = 0.885</text>
<text x="468.50" y="300.30" font-size="8.6" text-anchor="middle" fill="#2b2b2b" textLength="49.6" lengthAdjust="spacingAndGlyphs" >Int: P = 0.718</text>
</svg></div></body></html>
